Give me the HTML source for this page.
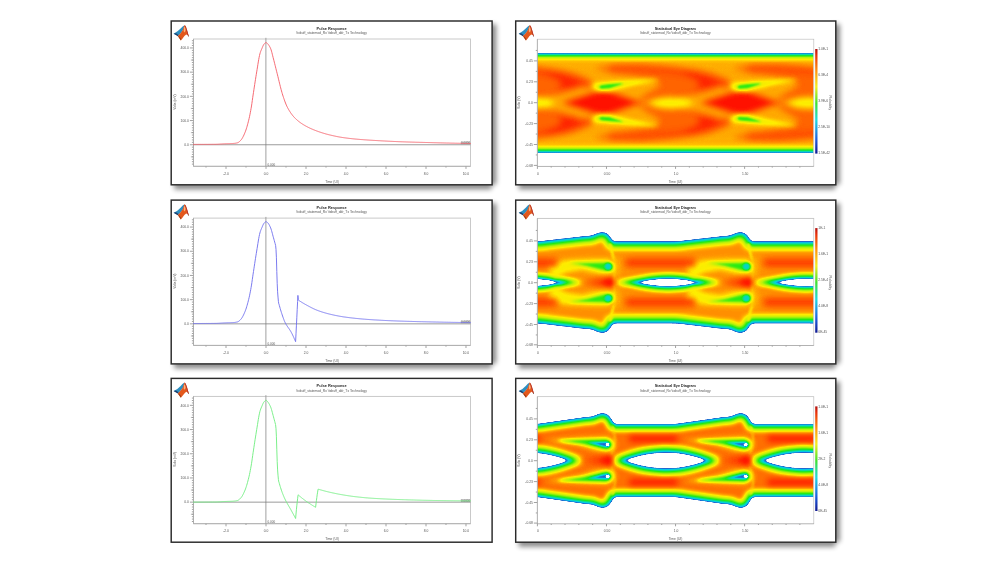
<!DOCTYPE html>
<html lang="en"><head><meta charset="utf-8"><title>Pulse Response and Statistical Eye Diagram</title>
<style>html,body{margin:0;padding:0;background:#fff;}body{width:1000px;height:562px;overflow:hidden;}svg{display:block;}text{font-family:"Liberation Sans", sans-serif;}</style></head><body>
<svg width="1000" height="562" viewBox="0 0 1000 562">
<defs>
<filter id="sh" x="-5%" y="-10%" width="110%" height="120%"><feGaussianBlur stdDeviation="2.5"/></filter>
<filter id="soft" x="-5%" y="-5%" width="110%" height="110%"><feGaussianBlur stdDeviation="0.35"/></filter>
<filter id="softt" x="-5%" y="-20%" width="110%" height="140%"><feGaussianBlur stdDeviation="0.28"/></filter>
<filter id="lg" x="-20%" y="-20%" width="140%" height="140%"><feGaussianBlur stdDeviation="0.45"/></filter>
<linearGradient id="cbar" x1="0" y1="0" x2="0" y2="1"><stop offset="0" stop-color="#b01010"/><stop offset="0.06" stop-color="#e8300c"/><stop offset="0.22" stop-color="#ff9a10"/><stop offset="0.36" stop-color="#f4ee20"/><stop offset="0.52" stop-color="#40e030"/><stop offset="0.68" stop-color="#20d8e0"/><stop offset="0.86" stop-color="#2060e0"/><stop offset="1" stop-color="#101890"/></linearGradient>
<g id="logo" filter="url(#lg)"><path d="M2.4 12.7 Q6.8 10.6 9.4 7.6 Q11.6 5.0 13.4 4.2 L12.2 8.6 L9.4 12.4 L6.8 14.9 Z" fill="#2f8fc0"/><path d="M2.4 12.7 L4.8 12.2 L7.4 14.2 L6.6 15.2 L4.4 13.8 Z" fill="#1c3c6c"/><path d="M6.6 15.0 L9.2 12.4 L11.6 9.0 L12.8 5.2 L13.5 4.1 L14.6 5.6 L15.9 9.4 L17.7 15.4 L16.4 14.0 L15.0 13.4 L13.2 15.0 L11.6 17.2 L9.7 19.4 Z" fill="#e3581f"/><path d="M13.5 4.1 L14.7 5.6 L16.0 9.4 L17.7 15.4 L16.3 13.8 L15.4 10.4 L14.2 6.6 Z" fill="#b5342c"/><path d="M12.9 6.6 L13.6 5.8 L14.4 9.0 L13.7 11.4 L12.5 10.2 Z" fill="#ffb27a"/><path d="M6.6 15.0 L8.0 15.4 L9.9 17.7 L9.7 19.4 Z" fill="#9c3a12"/><path d="M16.4 13.8 L17.7 15.4 L17.0 15.6 Z" fill="#4a2018"/></g>
<filter id="jet" filterUnits="userSpaceOnUse" x="500" y="0" width="360" height="562" color-interpolation-filters="sRGB"><feComponentTransfer><feFuncR type="table" tableValues="1.000 1.000 1.000 1.000 1.000 1.000 1.000 1.000 0.565 0.130 0.110 0.090 0.070 0.050 0.030 0.010 0.003 0.009 0.015 0.020 0.026 0.032 0.038 0.044 0.050 0.056 0.061 0.067 0.073 0.079 0.085 0.091 0.097 0.102 0.108 0.114 0.120 0.146 0.172 0.198 0.223 0.249 0.275 0.301 0.327 0.353 0.378 0.404 0.430 0.456 0.482 0.508 0.533 0.559 0.585 0.611 0.637 0.663 0.688 0.714 0.740 0.755 0.771 0.786 0.801 0.816 0.832 0.847 0.862 0.878 0.893 0.908 0.924 0.939 0.954 0.969 0.985 1.000 1.000 1.000 1.000 1.000 1.000 1.000 1.000 1.000 1.000 1.000 1.000 1.000 1.000 1.000 1.000 1.000 1.000 1.000 1.000 1.000 1.000 1.000 1.000"/><feFuncG type="table" tableValues="1.000 1.000 1.000 1.000 1.000 1.000 1.000 1.000 0.700 0.400 0.465 0.529 0.594 0.658 0.723 0.788 0.822 0.827 0.832 0.837 0.842 0.847 0.852 0.857 0.861 0.866 0.871 0.876 0.881 0.886 0.891 0.896 0.900 0.905 0.910 0.915 0.920 0.921 0.922 0.924 0.925 0.926 0.927 0.929 0.930 0.931 0.932 0.934 0.935 0.936 0.938 0.939 0.940 0.941 0.943 0.944 0.945 0.946 0.948 0.949 0.950 0.949 0.948 0.946 0.945 0.944 0.943 0.942 0.941 0.939 0.938 0.937 0.936 0.935 0.934 0.932 0.931 0.930 0.895 0.860 0.824 0.789 0.754 0.719 0.683 0.648 0.613 0.578 0.542 0.507 0.472 0.436 0.401 0.365 0.330 0.287 0.243 0.200 0.157 0.113 0.070"/><feFuncB type="table" tableValues="1.000 1.000 1.000 1.000 1.000 1.000 1.000 1.000 0.910 0.820 0.835 0.851 0.866 0.882 0.897 0.912 0.900 0.859 0.818 0.777 0.736 0.695 0.654 0.613 0.572 0.531 0.490 0.449 0.408 0.367 0.326 0.285 0.244 0.203 0.162 0.121 0.080 0.078 0.077 0.075 0.073 0.072 0.070 0.068 0.067 0.065 0.063 0.062 0.060 0.058 0.057 0.055 0.053 0.052 0.050 0.048 0.047 0.045 0.043 0.042 0.040 0.038 0.035 0.033 0.031 0.028 0.026 0.024 0.021 0.019 0.016 0.014 0.012 0.009 0.007 0.005 0.002 0.000 0.000 0.000 0.000 0.000 0.000 0.000 0.000 0.000 0.000 0.000 0.000 0.000 0.000 0.000 0.000 0.000 0.000 0.000 0.000 0.000 0.000 0.000 0.000"/></feComponentTransfer><feGaussianBlur stdDeviation="0.35"/></filter>
<filter id="b05" filterUnits="userSpaceOnUse" x="400" y="-100" width="560" height="800" color-interpolation-filters="sRGB"><feGaussianBlur stdDeviation="0.5"/></filter>
<filter id="b1" filterUnits="userSpaceOnUse" x="400" y="-100" width="560" height="800" color-interpolation-filters="sRGB"><feGaussianBlur stdDeviation="1.0"/></filter>
<filter id="b15" filterUnits="userSpaceOnUse" x="400" y="-100" width="560" height="800" color-interpolation-filters="sRGB"><feGaussianBlur stdDeviation="1.5"/></filter>
<filter id="b2" filterUnits="userSpaceOnUse" x="400" y="-100" width="560" height="800" color-interpolation-filters="sRGB"><feGaussianBlur stdDeviation="2.0"/></filter>
<filter id="b25" filterUnits="userSpaceOnUse" x="400" y="-100" width="560" height="800" color-interpolation-filters="sRGB"><feGaussianBlur stdDeviation="2.5"/></filter>
<filter id="b28" filterUnits="userSpaceOnUse" x="400" y="-100" width="560" height="800" color-interpolation-filters="sRGB"><feGaussianBlur stdDeviation="2.8"/></filter>
<filter id="b3" filterUnits="userSpaceOnUse" x="400" y="-100" width="560" height="800" color-interpolation-filters="sRGB"><feGaussianBlur stdDeviation="3.0"/></filter>
<filter id="b35" filterUnits="userSpaceOnUse" x="400" y="-100" width="560" height="800" color-interpolation-filters="sRGB"><feGaussianBlur stdDeviation="3.5"/></filter>
<filter id="b4" filterUnits="userSpaceOnUse" x="400" y="-100" width="560" height="800" color-interpolation-filters="sRGB"><feGaussianBlur stdDeviation="4.0"/></filter>
<filter id="b5" filterUnits="userSpaceOnUse" x="400" y="-100" width="560" height="800" color-interpolation-filters="sRGB"><feGaussianBlur stdDeviation="5.0"/></filter>
<filter id="b6" filterUnits="userSpaceOnUse" x="400" y="-100" width="560" height="800" color-interpolation-filters="sRGB"><feGaussianBlur stdDeviation="6.0"/></filter>
</defs>
<rect width="1000" height="562" fill="#ffffff"/>
<g fill="#000" opacity="0.46" filter="url(#sh)"><rect x="488.3" y="24.2" width="8" height="160.2"/><rect x="174.2" y="181.4" width="317.3" height="8"/></g>
<rect x="171.2" y="21" width="320.9" height="163.8" fill="#fff" stroke="#2a2a2a" stroke-width="1.45"/>
<g transform="translate(171.2 21)">
<use href="#logo"/>
<g filter="url(#softt)">
<text x="160.4" y="9.1" font-size="4.1" font-weight="bold" text-anchor="middle" fill="#222" textLength="30" lengthAdjust="spacingAndGlyphs">Pulse Response</text>
<text x="160.4" y="13.3" font-size="3.3" text-anchor="middle" fill="#555" textLength="70.5" lengthAdjust="spacingAndGlyphs">\txbuff_statemod_Rx \txbuff_ddr_Tx Technology</text>
</g>
<rect x="22.3" y="18" width="277" height="127.3" fill="#fff" stroke="#c4c4c4" stroke-width="0.9"/><path d="M54.8 145.3v2.6M94.8 145.3v2.6M134.8 145.3v2.6M174.8 145.3v2.6M214.8 145.3v2.6M254.8 145.3v2.6M294.8 145.3v2.6M34.8 145.3v1.3M74.8 145.3v1.3M114.8 145.3v1.3M154.8 145.3v1.3M194.8 145.3v1.3M234.8 145.3v1.3M274.8 145.3v1.3M22.3 123.75h-3.6M22.3 99.55h-3.6M22.3 75.35h-3.6M22.3 51.15h-3.6M22.3 26.95h-3.6M22.3 143.11h-1.6M22.3 140.69h-1.6M22.3 138.27h-1.6M22.3 135.85h-1.6M22.3 133.43h-1.6M22.3 131.01h-1.6M22.3 128.59h-1.6M22.3 126.17h-1.6M22.3 121.33h-1.6M22.3 118.91h-1.6M22.3 116.49h-1.6M22.3 114.07h-1.6M22.3 111.65h-1.6M22.3 109.23h-1.6M22.3 106.81h-1.6M22.3 104.39h-1.6M22.3 101.97h-1.6M22.3 97.13h-1.6M22.3 94.71h-1.6M22.3 92.29h-1.6M22.3 89.87h-1.6M22.3 87.45h-1.6M22.3 85.03h-1.6M22.3 82.61h-1.6M22.3 80.19h-1.6M22.3 77.77h-1.6M22.3 72.93h-1.6M22.3 70.51h-1.6M22.3 68.09h-1.6M22.3 65.67h-1.6M22.3 63.25h-1.6M22.3 60.83h-1.6M22.3 58.41h-1.6M22.3 55.99h-1.6M22.3 53.57h-1.6M22.3 48.73h-1.6M22.3 46.31h-1.6M22.3 43.89h-1.6M22.3 41.47h-1.6M22.3 39.05h-1.6M22.3 36.63h-1.6M22.3 34.21h-1.6M22.3 31.79h-1.6M22.3 29.37h-1.6M22.3 24.53h-1.6M22.3 22.11h-1.6M22.3 19.69h-1.6" stroke="#707070" stroke-width="0.65" fill="none"/><path d="M22.3 18V145.3H299.3" stroke="#a8a8a8" stroke-width="0.8" fill="none"/>
<path d="M22.3 135.85h-2.6M22.3 111.65h-2.6M22.3 87.45h-2.6M22.3 63.25h-2.6M22.3 39.05h-2.6" stroke="#8a8a8a" stroke-width="0.6" fill="none"/>
<g filter="url(#softt)" font-size="3.3" fill="#555">
<text x="17.7" y="124.95" text-anchor="end">0.0</text>
<text x="17.7" y="100.75" text-anchor="end">100.0</text>
<text x="17.7" y="76.55" text-anchor="end">200.0</text>
<text x="17.7" y="52.35" text-anchor="end">300.0</text>
<text x="17.7" y="28.15" text-anchor="end">400.0</text>
<text x="54.8" y="153.6" text-anchor="middle">-2.0</text>
<text x="94.8" y="153.6" text-anchor="middle">0.0</text>
<text x="134.8" y="153.6" text-anchor="middle">2.0</text>
<text x="174.8" y="153.6" text-anchor="middle">4.0</text>
<text x="214.8" y="153.6" text-anchor="middle">6.0</text>
<text x="254.8" y="153.6" text-anchor="middle">8.0</text>
<text x="294.8" y="153.6" text-anchor="middle">10.0</text>
<text x="160.8" y="161.5" text-anchor="middle">Time (UI)</text>
<text transform="translate(5 81.05) rotate(-90)" text-anchor="middle">Volts (mV)</text>
<text x="96.4" y="144.7" font-size="3.0">0.000</text>
<text x="299" y="123.15" font-size="3.0" text-anchor="end" fill="#333">0.0000</text>
</g>
<path d="M94.7 16.8V145.3" stroke="#a0a0a0" stroke-width="1.0" fill="none"/>
<path d="M22.3 123.75H299.3" stroke="#7a7a7a" stroke-width="0.75" fill="none"/>
<rect x="289.5" y="120.85" width="9.6" height="2.6" fill="#9a9a9a" opacity="0.55"/>
<g transform="translate(-171.2 -21)" filter="url(#soft)"><path d="M193.5 144.4 L193.9 144.4 L194.3 144.4 L194.7 144.4 L195.1 144.4 L195.5 144.4 L195.9 144.4 L196.3 144.4 L196.7 144.4 L197.1 144.4 L197.5 144.4 L197.9 144.4 L198.3 144.4 L198.7 144.39 L199.1 144.39 L199.5 144.39 L199.9 144.39 L200.3 144.39 L200.7 144.39 L201.1 144.39 L201.5 144.39 L201.9 144.39 L202.3 144.38 L202.7 144.38 L203.1 144.38 L203.5 144.38 L203.9 144.38 L204.3 144.38 L204.7 144.37 L205.1 144.37 L205.5 144.37 L205.9 144.37 L206.3 144.37 L206.7 144.36 L207.1 144.36 L207.5 144.36 L207.9 144.36 L208.3 144.35 L208.7 144.35 L209.1 144.35 L209.5 144.35 L209.9 144.34 L210.3 144.34 L210.7 144.34 L211.1 144.33 L211.5 144.33 L211.9 144.33 L212.3 144.32 L212.7 144.32 L213.1 144.32 L213.5 144.31 L213.9 144.31 L214.3 144.31 L214.7 144.3 L215.1 144.3 L215.5 144.29 L215.9 144.28 L216.3 144.27 L216.7 144.26 L217.1 144.25 L217.5 144.23 L217.9 144.21 L218.3 144.19 L218.7 144.17 L219.1 144.15 L219.5 144.12 L219.9 144.1 L220.3 144.07 L220.7 144.05 L221.1 144.02 L221.5 144 L221.9 143.97 L222.3 143.95 L222.7 143.92 L223.1 143.9 L223.5 143.87 L223.9 143.85 L224.3 143.83 L224.7 143.81 L225.1 143.8 L225.5 143.78 L225.9 143.77 L226.3 143.75 L226.7 143.74 L227.1 143.73 L227.5 143.71 L227.9 143.7 L228.3 143.69 L228.7 143.68 L229.1 143.67 L229.5 143.66 L229.9 143.64 L230.3 143.63 L230.7 143.61 L231.1 143.6 L231.5 143.58 L231.9 143.56 L232.3 143.54 L232.7 143.52 L233.1 143.49 L233.5 143.46 L233.9 143.43 L234.3 143.39 L234.7 143.34 L235.1 143.29 L235.5 143.23 L235.9 143.16 L236.3 143.08 L236.7 143 L237.1 142.9 L237.5 142.8 L237.9 142.66 L238.3 142.46 L238.7 142.2 L239.1 141.89 L239.5 141.55 L239.9 141.17 L240.3 140.76 L240.7 140.33 L241.1 139.89 L241.5 139.38 L241.9 138.81 L242.3 138.17 L242.7 137.46 L243.1 136.7 L243.5 135.89 L243.9 135.04 L244.3 134.14 L244.7 133.22 L245.1 132.26 L245.5 131.22 L245.9 130.1 L246.3 128.89 L246.7 127.61 L247.1 126.25 L247.5 124.82 L247.9 123.34 L248.3 121.8 L248.7 120.2 L249.1 118.53 L249.5 116.72 L249.9 114.79 L250.3 112.75 L250.7 110.6 L251.1 108.36 L251.5 105.99 L251.9 103.35 L252.3 100.56 L252.7 97.73 L253.1 95 L253.5 92.35 L253.9 89.71 L254.3 87.07 L254.7 84.45 L255.1 81.86 L255.5 79.3 L255.9 76.78 L256.3 74.31 L256.7 71.9 L257.1 69.43 L257.5 66.91 L257.9 64.39 L258.3 61.93 L258.7 59.59 L259.1 57.43 L259.5 55.5 L259.9 53.86 L260.3 52.52 L260.7 51.37 L261.1 50.36 L261.5 49.42 L261.9 48.5 L262.3 47.56 L262.7 46.61 L263.1 45.72 L263.5 44.94 L263.9 44.32 L264.3 43.85 L264.7 43.41 L265.1 43.03 L265.5 42.74 L265.9 42.61 L266.3 42.66 L266.7 42.88 L267.1 43.23 L267.5 43.65 L267.9 44.09 L268.3 44.54 L268.7 45.05 L269.1 45.64 L269.5 46.3 L269.9 47.04 L270.3 47.84 L270.7 48.73 L271.1 49.83 L271.5 51.14 L271.9 52.61 L272.3 54.19 L272.7 55.82 L273.1 57.44 L273.5 59 L273.9 60.53 L274.3 62.09 L274.7 63.68 L275.1 65.29 L275.5 66.9 L275.9 68.51 L276.3 70.12 L276.7 71.71 L277.1 73.29 L277.5 74.89 L277.9 76.52 L278.3 78.17 L278.7 79.83 L279.1 81.48 L279.5 83.13 L279.9 84.76 L280.3 86.36 L280.7 87.94 L281.1 89.46 L281.5 90.94 L281.9 92.37 L282.3 93.72 L282.7 95 L283.1 96.23 L283.5 97.44 L283.9 98.62 L284.3 99.78 L284.7 100.9 L285.1 101.98 L285.5 103.03 L285.9 104.03 L286.3 104.98 L286.7 105.88 L287.1 106.72 L287.5 107.5 L287.9 108.24 L288.3 108.96 L288.7 109.65 L289.1 110.33 L289.5 110.98 L289.9 111.62 L290.3 112.24 L290.7 112.83 L291.1 113.41 L291.5 113.97 L291.9 114.51 L292.3 115.03 L292.7 115.54 L293.1 116.02 L293.5 116.49 L293.9 116.94 L294.3 117.38 L294.7 117.8 L295.1 118.2 L295.5 118.59 L295.9 118.97 L296.3 119.34 L296.7 119.7 L297.1 120.06 L297.5 120.4 L297.9 120.74 L298.3 121.07 L298.7 121.39 L299.1 121.7 L299.5 122.01 L299.9 122.31 L300.3 122.6 L300.7 122.89 L301.1 123.16 L301.5 123.44 L301.9 123.7 L302.3 123.97 L302.7 124.22 L303.1 124.47 L303.5 124.72 L303.9 124.96 L304.3 125.2 L304.7 125.43 L305.1 125.66 L305.5 125.88 L305.9 126.1 L306.3 126.32 L306.7 126.54 L307.1 126.75 L307.5 126.95 L307.9 127.16 L308.3 127.36 L308.7 127.56 L309.1 127.75 L309.5 127.94 L309.9 128.13 L310.3 128.32 L310.7 128.5 L311.1 128.68 L311.5 128.86 L311.9 129.04 L312.3 129.21 L312.7 129.38 L313.1 129.55 L313.5 129.71 L313.9 129.88 L314.3 130.04 L314.7 130.2 L315.1 130.35 L315.5 130.51 L315.9 130.66 L316.3 130.81 L316.7 130.96 L317.1 131.1 L317.5 131.25 L317.9 131.39 L318.3 131.54 L318.7 131.68 L319.1 131.81 L319.5 131.95 L319.9 132.09 L320.3 132.22 L320.7 132.35 L321.1 132.48 L321.5 132.61 L321.9 132.74 L322.3 132.87 L322.7 132.99 L323.1 133.12 L323.5 133.24 L323.9 133.36 L324.3 133.48 L324.7 133.59 L325.1 133.71 L325.5 133.82 L325.9 133.94 L326.3 134.05 L326.7 134.16 L327.1 134.26 L327.5 134.37 L327.9 134.48 L328.3 134.58 L328.7 134.68 L329.1 134.78 L329.5 134.88 L329.9 134.98 L330.3 135.07 L330.7 135.17 L331.1 135.26 L331.5 135.35 L331.9 135.45 L332.3 135.54 L332.7 135.63 L333.1 135.72 L333.5 135.81 L333.9 135.9 L334.3 135.98 L334.7 136.07 L335.1 136.15 L335.5 136.24 L335.9 136.32 L336.3 136.4 L336.7 136.48 L337.1 136.56 L337.5 136.64 L337.9 136.71 L338.3 136.79 L338.7 136.86 L339.1 136.94 L339.5 137.01 L339.9 137.08 L340.3 137.15 L340.7 137.21 L341.1 137.28 L341.5 137.35 L341.9 137.41 L342.3 137.47 L342.7 137.53 L343.1 137.59 L343.5 137.65 L343.9 137.7 L344.3 137.76 L344.7 137.82 L345.1 137.87 L345.5 137.93 L345.9 137.98 L346.3 138.03 L346.7 138.08 L347.1 138.13 L347.5 138.18 L347.9 138.23 L348.3 138.28 L348.7 138.33 L349.1 138.38 L349.5 138.42 L349.9 138.47 L350.3 138.51 L350.7 138.56 L351.1 138.6 L351.5 138.64 L351.9 138.69 L352.3 138.73 L352.7 138.77 L353.1 138.81 L353.5 138.85 L353.9 138.89 L354.3 138.93 L354.7 138.97 L355.1 139.01 L355.5 139.05 L355.9 139.09 L356.3 139.12 L356.7 139.16 L357.1 139.19 L357.5 139.23 L357.9 139.27 L358.3 139.3 L358.7 139.33 L359.1 139.37 L359.5 139.4 L359.9 139.43 L360.3 139.47 L360.7 139.5 L361.1 139.53 L361.5 139.56 L361.9 139.59 L362.3 139.62 L362.7 139.65 L363.1 139.69 L363.5 139.72 L363.9 139.74 L364.3 139.77 L364.7 139.8 L365.1 139.83 L365.5 139.86 L365.9 139.89 L366.3 139.92 L366.7 139.94 L367.1 139.97 L367.5 140 L367.9 140.03 L368.3 140.05 L368.7 140.08 L369.1 140.11 L369.5 140.13 L369.9 140.16 L370.3 140.18 L370.7 140.21 L371.1 140.23 L371.5 140.26 L371.9 140.28 L372.3 140.31 L372.7 140.33 L373.1 140.36 L373.5 140.38 L373.9 140.4 L374.3 140.43 L374.7 140.45 L375.1 140.47 L375.5 140.5 L375.9 140.52 L376.3 140.54 L376.7 140.57 L377.1 140.59 L377.5 140.61 L377.9 140.63 L378.3 140.66 L378.7 140.68 L379.1 140.7 L379.5 140.72 L379.9 140.74 L380.3 140.77 L380.7 140.79 L381.1 140.81 L381.5 140.83 L381.9 140.86 L382.3 140.88 L382.7 140.9 L383.1 140.92 L383.5 140.94 L383.9 140.97 L384.3 140.99 L384.7 141.01 L385.1 141.03 L385.5 141.05 L385.9 141.07 L386.3 141.09 L386.7 141.12 L387.1 141.14 L387.5 141.16 L387.9 141.18 L388.3 141.2 L388.7 141.22 L389.1 141.24 L389.5 141.26 L389.9 141.28 L390.3 141.3 L390.7 141.32 L391.1 141.34 L391.5 141.35 L391.9 141.37 L392.3 141.39 L392.7 141.41 L393.1 141.43 L393.5 141.44 L393.9 141.46 L394.3 141.48 L394.7 141.5 L395.1 141.52 L395.5 141.53 L395.9 141.55 L396.3 141.57 L396.7 141.58 L397.1 141.6 L397.5 141.62 L397.9 141.63 L398.3 141.65 L398.7 141.67 L399.1 141.68 L399.5 141.7 L399.9 141.71 L400.3 141.73 L400.7 141.74 L401.1 141.76 L401.5 141.78 L401.9 141.79 L402.3 141.81 L402.7 141.82 L403.1 141.83 L403.5 141.85 L403.9 141.86 L404.3 141.88 L404.7 141.89 L405.1 141.9 L405.5 141.92 L405.9 141.93 L406.3 141.94 L406.7 141.96 L407.1 141.97 L407.5 141.98 L407.9 141.99 L408.3 142.01 L408.7 142.02 L409.1 142.03 L409.5 142.04 L409.9 142.06 L410.3 142.07 L410.7 142.08 L411.1 142.09 L411.5 142.1 L411.9 142.12 L412.3 142.13 L412.7 142.14 L413.1 142.15 L413.5 142.16 L413.9 142.17 L414.3 142.18 L414.7 142.2 L415.1 142.21 L415.5 142.22 L415.9 142.23 L416.3 142.24 L416.7 142.25 L417.1 142.26 L417.5 142.27 L417.9 142.28 L418.3 142.29 L418.7 142.3 L419.1 142.32 L419.5 142.33 L419.9 142.34 L420.3 142.35 L420.7 142.36 L421.1 142.37 L421.5 142.38 L421.9 142.39 L422.3 142.4 L422.7 142.41 L423.1 142.42 L423.5 142.43 L423.9 142.44 L424.3 142.45 L424.7 142.46 L425.1 142.47 L425.5 142.48 L425.9 142.49 L426.3 142.5 L426.7 142.51 L427.1 142.52 L427.5 142.53 L427.9 142.54 L428.3 142.56 L428.7 142.57 L429.1 142.58 L429.5 142.59 L429.9 142.6 L430.3 142.61 L430.7 142.62 L431.1 142.63 L431.5 142.64 L431.9 142.65 L432.3 142.66 L432.7 142.67 L433.1 142.68 L433.5 142.69 L433.9 142.7 L434.3 142.71 L434.7 142.72 L435.1 142.73 L435.5 142.74 L435.9 142.76 L436.3 142.77 L436.7 142.78 L437.1 142.79 L437.5 142.8 L437.9 142.81 L438.3 142.82 L438.7 142.83 L439.1 142.84 L439.5 142.85 L439.9 142.86 L440.3 142.87 L440.7 142.88 L441.1 142.89 L441.5 142.9 L441.9 142.91 L442.3 142.92 L442.7 142.93 L443.1 142.94 L443.5 142.95 L443.9 142.96 L444.3 142.97 L444.7 142.98 L445.1 142.99 L445.5 143 L445.9 143.01 L446.3 143.02 L446.7 143.03 L447.1 143.03 L447.5 143.04 L447.9 143.05 L448.3 143.06 L448.7 143.07 L449.1 143.08 L449.5 143.09 L449.9 143.1 L450.3 143.11 L450.7 143.12 L451.1 143.12 L451.5 143.13 L451.9 143.14 L452.3 143.15 L452.7 143.16 L453.1 143.17 L453.5 143.18 L453.9 143.18 L454.3 143.19 L454.7 143.2 L455.1 143.21 L455.5 143.22 L455.9 143.23 L456.3 143.23 L456.7 143.24 L457.1 143.25 L457.5 143.26 L457.9 143.27 L458.3 143.27 L458.7 143.28 L459.1 143.29 L459.5 143.3 L459.9 143.31 L460.3 143.31 L460.7 143.32 L461.1 143.33 L461.5 143.34 L461.9 143.35 L462.3 143.35 L462.7 143.36 L463.1 143.37 L463.5 143.38 L463.9 143.38 L464.3 143.39 L464.7 143.4 L465.1 143.41 L465.5 143.41 L465.9 143.42 L466.3 143.43 L466.7 143.43 L467.1 143.44 L467.5 143.45 L467.9 143.46 L468.3 143.46 L468.7 143.47 L469.1 143.48 L469.5 143.48 L469.9 143.49 L470.3 143.5 L470.5 143.5" fill="none" stroke="#f4626c" stroke-width="0.95" stroke-linejoin="round" stroke-linecap="round"/></g>
</g>
<g fill="#000" opacity="0.46" filter="url(#sh)"><rect x="488.3" y="203.3" width="8" height="160.2"/><rect x="174.2" y="360.5" width="317.3" height="8"/></g>
<rect x="171.2" y="200.1" width="320.9" height="163.8" fill="#fff" stroke="#2a2a2a" stroke-width="1.45"/>
<g transform="translate(171.2 200.1)">
<use href="#logo"/>
<g filter="url(#softt)">
<text x="160.4" y="9.1" font-size="4.1" font-weight="bold" text-anchor="middle" fill="#222" textLength="30" lengthAdjust="spacingAndGlyphs">Pulse Response</text>
<text x="160.4" y="13.3" font-size="3.3" text-anchor="middle" fill="#555" textLength="70.5" lengthAdjust="spacingAndGlyphs">\txbuff_statemod_Rx \txbuff_ddr_Tx Technology</text>
</g>
<rect x="22.3" y="18" width="277" height="127.3" fill="#fff" stroke="#c4c4c4" stroke-width="0.9"/><path d="M54.8 145.3v2.6M94.8 145.3v2.6M134.8 145.3v2.6M174.8 145.3v2.6M214.8 145.3v2.6M254.8 145.3v2.6M294.8 145.3v2.6M34.8 145.3v1.3M74.8 145.3v1.3M114.8 145.3v1.3M154.8 145.3v1.3M194.8 145.3v1.3M234.8 145.3v1.3M274.8 145.3v1.3M22.3 123.75h-3.6M22.3 99.55h-3.6M22.3 75.35h-3.6M22.3 51.15h-3.6M22.3 26.95h-3.6M22.3 143.11h-1.6M22.3 140.69h-1.6M22.3 138.27h-1.6M22.3 135.85h-1.6M22.3 133.43h-1.6M22.3 131.01h-1.6M22.3 128.59h-1.6M22.3 126.17h-1.6M22.3 121.33h-1.6M22.3 118.91h-1.6M22.3 116.49h-1.6M22.3 114.07h-1.6M22.3 111.65h-1.6M22.3 109.23h-1.6M22.3 106.81h-1.6M22.3 104.39h-1.6M22.3 101.97h-1.6M22.3 97.13h-1.6M22.3 94.71h-1.6M22.3 92.29h-1.6M22.3 89.87h-1.6M22.3 87.45h-1.6M22.3 85.03h-1.6M22.3 82.61h-1.6M22.3 80.19h-1.6M22.3 77.77h-1.6M22.3 72.93h-1.6M22.3 70.51h-1.6M22.3 68.09h-1.6M22.3 65.67h-1.6M22.3 63.25h-1.6M22.3 60.83h-1.6M22.3 58.41h-1.6M22.3 55.99h-1.6M22.3 53.57h-1.6M22.3 48.73h-1.6M22.3 46.31h-1.6M22.3 43.89h-1.6M22.3 41.47h-1.6M22.3 39.05h-1.6M22.3 36.63h-1.6M22.3 34.21h-1.6M22.3 31.79h-1.6M22.3 29.37h-1.6M22.3 24.53h-1.6M22.3 22.11h-1.6M22.3 19.69h-1.6" stroke="#707070" stroke-width="0.65" fill="none"/><path d="M22.3 18V145.3H299.3" stroke="#a8a8a8" stroke-width="0.8" fill="none"/>
<path d="M22.3 135.85h-2.6M22.3 111.65h-2.6M22.3 87.45h-2.6M22.3 63.25h-2.6M22.3 39.05h-2.6" stroke="#8a8a8a" stroke-width="0.6" fill="none"/>
<g filter="url(#softt)" font-size="3.3" fill="#555">
<text x="17.7" y="124.95" text-anchor="end">0.0</text>
<text x="17.7" y="100.75" text-anchor="end">100.0</text>
<text x="17.7" y="76.55" text-anchor="end">200.0</text>
<text x="17.7" y="52.35" text-anchor="end">300.0</text>
<text x="17.7" y="28.15" text-anchor="end">400.0</text>
<text x="54.8" y="153.6" text-anchor="middle">-2.0</text>
<text x="94.8" y="153.6" text-anchor="middle">0.0</text>
<text x="134.8" y="153.6" text-anchor="middle">2.0</text>
<text x="174.8" y="153.6" text-anchor="middle">4.0</text>
<text x="214.8" y="153.6" text-anchor="middle">6.0</text>
<text x="254.8" y="153.6" text-anchor="middle">8.0</text>
<text x="294.8" y="153.6" text-anchor="middle">10.0</text>
<text x="160.8" y="161.5" text-anchor="middle">Time (UI)</text>
<text transform="translate(5 81.05) rotate(-90)" text-anchor="middle">Volts (mV)</text>
<text x="96.4" y="144.7" font-size="3.0">0.000</text>
<text x="299" y="123.15" font-size="3.0" text-anchor="end" fill="#333">0.0000</text>
</g>
<path d="M94.7 16.8V145.3" stroke="#a0a0a0" stroke-width="1.0" fill="none"/>
<path d="M22.3 123.75H299.3" stroke="#7a7a7a" stroke-width="0.75" fill="none"/>
<rect x="289.5" y="120.85" width="9.6" height="2.6" fill="#9a9a9a" opacity="0.55"/>
<g transform="translate(-171.2 -21)" filter="url(#soft)"><path d="M193.5 144.4 L193.9 144.4 L194.3 144.4 L194.7 144.4 L195.1 144.4 L195.5 144.4 L195.9 144.4 L196.3 144.4 L196.7 144.4 L197.1 144.4 L197.5 144.4 L197.9 144.4 L198.3 144.4 L198.7 144.39 L199.1 144.39 L199.5 144.39 L199.9 144.39 L200.3 144.39 L200.7 144.39 L201.1 144.39 L201.5 144.39 L201.9 144.39 L202.3 144.38 L202.7 144.38 L203.1 144.38 L203.5 144.38 L203.9 144.38 L204.3 144.38 L204.7 144.37 L205.1 144.37 L205.5 144.37 L205.9 144.37 L206.3 144.37 L206.7 144.36 L207.1 144.36 L207.5 144.36 L207.9 144.36 L208.3 144.35 L208.7 144.35 L209.1 144.35 L209.5 144.35 L209.9 144.34 L210.3 144.34 L210.7 144.34 L211.1 144.33 L211.5 144.33 L211.9 144.33 L212.3 144.32 L212.7 144.32 L213.1 144.32 L213.5 144.31 L213.9 144.31 L214.3 144.31 L214.7 144.3 L215.1 144.3 L215.5 144.29 L215.9 144.28 L216.3 144.27 L216.7 144.26 L217.1 144.25 L217.5 144.23 L217.9 144.21 L218.3 144.19 L218.7 144.17 L219.1 144.15 L219.5 144.12 L219.9 144.1 L220.3 144.07 L220.7 144.05 L221.1 144.02 L221.5 144 L221.9 143.97 L222.3 143.95 L222.7 143.92 L223.1 143.9 L223.5 143.87 L223.9 143.85 L224.3 143.83 L224.7 143.81 L225.1 143.8 L225.5 143.78 L225.9 143.77 L226.3 143.75 L226.7 143.74 L227.1 143.73 L227.5 143.71 L227.9 143.7 L228.3 143.69 L228.7 143.68 L229.1 143.67 L229.5 143.66 L229.9 143.64 L230.3 143.63 L230.7 143.61 L231.1 143.6 L231.5 143.58 L231.9 143.56 L232.3 143.54 L232.7 143.52 L233.1 143.49 L233.5 143.46 L233.9 143.43 L234.3 143.39 L234.7 143.34 L235.1 143.29 L235.5 143.23 L235.9 143.16 L236.3 143.08 L236.7 143 L237.1 142.9 L237.5 142.8 L237.9 142.66 L238.3 142.46 L238.7 142.2 L239.1 141.89 L239.5 141.55 L239.9 141.17 L240.3 140.76 L240.7 140.33 L241.1 139.89 L241.5 139.38 L241.9 138.81 L242.3 138.17 L242.7 137.46 L243.1 136.7 L243.5 135.89 L243.9 135.04 L244.3 134.14 L244.7 133.22 L245.1 132.26 L245.5 131.22 L245.9 130.1 L246.3 128.89 L246.7 127.61 L247.1 126.25 L247.5 124.82 L247.9 123.34 L248.3 121.8 L248.7 120.2 L249.1 118.53 L249.5 116.72 L249.9 114.79 L250.3 112.75 L250.7 110.6 L251.1 108.36 L251.5 105.99 L251.9 103.35 L252.3 100.56 L252.7 97.73 L253.1 95 L253.5 92.35 L253.9 89.71 L254.3 87.07 L254.7 84.45 L255.1 81.86 L255.5 79.3 L255.9 76.78 L256.3 74.31 L256.7 71.9 L257.1 69.43 L257.5 66.91 L257.9 64.39 L258.3 61.93 L258.7 59.59 L259.1 57.43 L259.5 55.5 L259.9 53.86 L260.3 52.52 L260.7 51.37 L261.1 50.36 L261.5 49.42 L261.9 48.5 L262.3 47.56 L262.7 46.61 L263.1 45.72 L263.5 44.94 L263.9 44.32 L264.3 43.85 L264.7 43.41 L265.1 43.03 L265.5 42.74 L265.9 42.61 L266.3 42.65 L266.7 42.84 L267.1 43.14 L267.5 43.5 L267.9 43.9 L268.3 44.33 L268.7 44.88 L269.1 45.54 L269.5 46.29 L269.9 47.12 L270.3 48 L270.7 48.94 L271.1 50.04 L271.5 51.32 L271.9 52.72 L272.3 54.21 L272.7 55.73 L273.1 57.24 L273.5 58.7 L273.9 60.12 L274.3 61.56 L274.7 63 L275.1 64.46 L275.5 65.93 L275.6 66.3 L275.6 66.3 L276 70.3 L276.4 78.13 L276.8 92.53 L277.2 104.15 L277.6 112.7 L278 117.95 L278.4 122.23 L278.8 124.75 L279 125.1 L279 125.1 L279.4 126.57 L279.8 128.01 L280.2 129.4 L280.6 130.76 L281 132.08 L281.4 133.36 L281.8 134.6 L282.2 135.79 L282.6 136.98 L283 138.14 L283.4 139.27 L283.8 140.35 L284.2 141.38 L284.6 142.33 L285 143.2 L285.4 144 L285.8 144.74 L286.2 145.43 L286.6 146.09 L287 146.71 L287.4 147.31 L287.8 147.9 L288.2 148.47 L288.6 149.03 L289 149.6 L289.4 150.18 L289.8 150.78 L290.2 151.4 L290.6 152.05 L291 152.75 L291.4 153.48 L291.8 154.25 L292.2 155.04 L292.6 155.85 L293 156.69 L293.4 157.55 L293.8 158.43 L294.2 159.33 L294.6 160.25 L295 161.18 L295.4 162.12 L295.6 162.6 L295.6 162.6 L296 154.69 L296.4 146.73 L296.8 138.7 L297.2 130.61 L297.6 122.46 L297.9 116.3 L297.9 116.3 L298.3 120.27 L298.7 121.28 L298.75 121.3 L298.75 121.3 L299.15 121.56 L299.55 121.81 L299.95 122.07 L300.35 122.32 L300.75 122.57 L301.15 122.82 L301.55 123.07 L301.95 123.32 L302.35 123.56 L302.75 123.8 L303.15 124.04 L303.55 124.28 L303.95 124.51 L304.35 124.74 L304.75 124.96 L305.15 125.18 L305.55 125.4 L305.95 125.63 L306.35 125.85 L306.75 126.07 L307.15 126.29 L307.55 126.51 L307.95 126.72 L308.35 126.94 L308.75 127.16 L309.15 127.37 L309.55 127.59 L309.95 127.8 L310.35 128.01 L310.75 128.22 L311.15 128.42 L311.55 128.63 L311.95 128.83 L312.35 129.03 L312.75 129.22 L313.15 129.42 L313.55 129.61 L313.95 129.8 L314.35 129.98 L314.75 130.16 L315.15 130.34 L315.55 130.51 L315.95 130.68 L316.35 130.85 L316.75 131.01 L317.15 131.17 L317.55 131.32 L317.95 131.47 L318.35 131.62 L318.75 131.76 L319.15 131.9 L319.55 132.05 L319.95 132.18 L320.35 132.32 L320.75 132.46 L321.15 132.59 L321.55 132.72 L321.95 132.85 L322.35 132.98 L322.75 133.11 L323.15 133.23 L323.55 133.35 L323.95 133.47 L324.35 133.59 L324.75 133.71 L325.15 133.82 L325.55 133.94 L325.95 134.05 L326.35 134.16 L326.75 134.27 L327.15 134.38 L327.55 134.48 L327.95 134.59 L328.35 134.69 L328.75 134.79 L329.15 134.89 L329.55 134.99 L329.95 135.09 L330.35 135.18 L330.75 135.28 L331.15 135.37 L331.55 135.47 L331.95 135.56 L332.35 135.65 L332.75 135.74 L333.15 135.83 L333.55 135.92 L333.95 136 L334.35 136.09 L334.75 136.17 L335.15 136.26 L335.55 136.34 L335.95 136.42 L336.35 136.5 L336.75 136.58 L337.15 136.66 L337.55 136.74 L337.95 136.81 L338.35 136.89 L338.75 136.96 L339.15 137.04 L339.55 137.11 L339.95 137.18 L340.35 137.25 L340.75 137.32 L341.15 137.38 L341.55 137.45 L341.95 137.51 L342.35 137.58 L342.75 137.64 L343.15 137.7 L343.55 137.76 L343.95 137.82 L344.35 137.88 L344.75 137.94 L345.15 138 L345.55 138.05 L345.95 138.11 L346.35 138.16 L346.75 138.22 L347.15 138.27 L347.55 138.33 L347.95 138.38 L348.35 138.43 L348.75 138.48 L349.15 138.53 L349.55 138.58 L349.95 138.63 L350.35 138.68 L350.75 138.73 L351.15 138.77 L351.55 138.82 L351.95 138.87 L352.35 138.91 L352.75 138.96 L353.15 139 L353.55 139.05 L353.95 139.09 L354.35 139.13 L354.75 139.17 L355.15 139.22 L355.55 139.26 L355.95 139.3 L356.35 139.34 L356.75 139.38 L357.15 139.42 L357.55 139.46 L357.95 139.5 L358.35 139.54 L358.75 139.57 L359.15 139.61 L359.55 139.65 L359.95 139.69 L360.35 139.72 L360.75 139.76 L361.15 139.8 L361.55 139.83 L361.95 139.87 L362.35 139.9 L362.75 139.94 L363.15 139.97 L363.55 140.01 L363.95 140.04 L364.35 140.07 L364.75 140.11 L365.15 140.14 L365.55 140.17 L365.95 140.2 L366.35 140.23 L366.75 140.27 L367.15 140.3 L367.55 140.33 L367.95 140.36 L368.35 140.38 L368.75 140.41 L369.15 140.44 L369.55 140.47 L369.95 140.5 L370.35 140.52 L370.75 140.55 L371.15 140.58 L371.55 140.6 L371.95 140.63 L372.35 140.66 L372.75 140.68 L373.15 140.71 L373.55 140.73 L373.95 140.76 L374.35 140.78 L374.75 140.81 L375.15 140.83 L375.55 140.86 L375.95 140.88 L376.35 140.9 L376.75 140.93 L377.15 140.95 L377.55 140.98 L377.95 141 L378.35 141.02 L378.75 141.04 L379.15 141.07 L379.55 141.09 L379.95 141.11 L380.35 141.13 L380.75 141.15 L381.15 141.18 L381.55 141.2 L381.95 141.22 L382.35 141.24 L382.75 141.26 L383.15 141.28 L383.55 141.3 L383.95 141.32 L384.35 141.34 L384.75 141.36 L385.15 141.38 L385.55 141.4 L385.95 141.42 L386.35 141.44 L386.75 141.45 L387.15 141.47 L387.55 141.49 L387.95 141.51 L388.35 141.53 L388.75 141.55 L389.15 141.56 L389.55 141.58 L389.95 141.6 L390.35 141.61 L390.75 141.63 L391.15 141.65 L391.55 141.67 L391.95 141.68 L392.35 141.7 L392.75 141.71 L393.15 141.73 L393.55 141.75 L393.95 141.76 L394.35 141.78 L394.75 141.79 L395.15 141.81 L395.55 141.82 L395.95 141.84 L396.35 141.85 L396.75 141.87 L397.15 141.88 L397.55 141.9 L397.95 141.91 L398.35 141.93 L398.75 141.94 L399.15 141.95 L399.55 141.97 L399.95 141.98 L400.35 142 L400.75 142.01 L401.15 142.02 L401.55 142.04 L401.95 142.05 L402.35 142.06 L402.75 142.08 L403.15 142.09 L403.55 142.1 L403.95 142.12 L404.35 142.13 L404.75 142.14 L405.15 142.15 L405.55 142.17 L405.95 142.18 L406.35 142.19 L406.75 142.2 L407.15 142.22 L407.55 142.23 L407.95 142.24 L408.35 142.25 L408.75 142.26 L409.15 142.28 L409.55 142.29 L409.95 142.3 L410.35 142.31 L410.75 142.32 L411.15 142.33 L411.55 142.34 L411.95 142.36 L412.35 142.37 L412.75 142.38 L413.15 142.39 L413.55 142.4 L413.95 142.41 L414.35 142.42 L414.75 142.43 L415.15 142.44 L415.55 142.45 L415.95 142.46 L416.35 142.47 L416.75 142.49 L417.15 142.5 L417.55 142.51 L417.95 142.52 L418.35 142.53 L418.75 142.54 L419.15 142.55 L419.55 142.56 L419.95 142.57 L420.35 142.58 L420.75 142.59 L421.15 142.6 L421.55 142.61 L421.95 142.61 L422.35 142.62 L422.75 142.63 L423.15 142.64 L423.55 142.65 L423.95 142.66 L424.35 142.67 L424.75 142.68 L425.15 142.69 L425.55 142.7 L425.95 142.71 L426.35 142.72 L426.75 142.73 L427.15 142.74 L427.55 142.75 L427.95 142.75 L428.35 142.76 L428.75 142.77 L429.15 142.78 L429.55 142.79 L429.95 142.8 L430.35 142.81 L430.75 142.82 L431.15 142.83 L431.55 142.83 L431.95 142.84 L432.35 142.85 L432.75 142.86 L433.15 142.87 L433.55 142.88 L433.95 142.89 L434.35 142.9 L434.75 142.9 L435.15 142.91 L435.55 142.92 L435.95 142.93 L436.35 142.94 L436.75 142.95 L437.15 142.95 L437.55 142.96 L437.95 142.97 L438.35 142.98 L438.75 142.99 L439.15 143 L439.55 143 L439.95 143.01 L440.35 143.02 L440.75 143.03 L441.15 143.04 L441.55 143.04 L441.95 143.05 L442.35 143.06 L442.75 143.07 L443.15 143.08 L443.55 143.08 L443.95 143.09 L444.35 143.1 L444.75 143.11 L445.15 143.11 L445.55 143.12 L445.95 143.13 L446.35 143.14 L446.75 143.14 L447.15 143.15 L447.55 143.16 L447.95 143.16 L448.35 143.17 L448.75 143.18 L449.15 143.19 L449.55 143.19 L449.95 143.2 L450.35 143.21 L450.75 143.21 L451.15 143.22 L451.55 143.23 L451.95 143.23 L452.35 143.24 L452.75 143.25 L453.15 143.25 L453.55 143.26 L453.95 143.27 L454.35 143.27 L454.75 143.28 L455.15 143.28 L455.55 143.29 L455.95 143.3 L456.35 143.3 L456.75 143.31 L457.15 143.32 L457.55 143.32 L457.95 143.33 L458.35 143.33 L458.75 143.34 L459.15 143.35 L459.55 143.35 L459.95 143.36 L460.35 143.36 L460.75 143.37 L461.15 143.38 L461.55 143.38 L461.95 143.39 L462.35 143.39 L462.75 143.4 L463.15 143.4 L463.55 143.41 L463.95 143.42 L464.35 143.42 L464.75 143.43 L465.15 143.43 L465.55 143.44 L465.95 143.44 L466.35 143.45 L466.75 143.45 L467.15 143.46 L467.55 143.46 L467.95 143.47 L468.35 143.47 L468.75 143.48 L469.15 143.48 L469.55 143.49 L469.95 143.49 L470.35 143.5 L470.5 143.5" fill="none" stroke="#7474ee" stroke-width="0.95" stroke-linejoin="round" stroke-linecap="round"/></g>
</g>
<rect x="171.2" y="378.4" width="320.9" height="163.8" fill="#fff" stroke="#2a2a2a" stroke-width="1.45"/>
<g transform="translate(171.2 378.4)">
<use href="#logo"/>
<g filter="url(#softt)">
<text x="160.4" y="9.1" font-size="4.1" font-weight="bold" text-anchor="middle" fill="#222" textLength="30" lengthAdjust="spacingAndGlyphs">Pulse Response</text>
<text x="160.4" y="13.3" font-size="3.3" text-anchor="middle" fill="#555" textLength="70.5" lengthAdjust="spacingAndGlyphs">\txbuff_statemod_Rx \txbuff_ddr_Tx Technology</text>
</g>
<rect x="22.3" y="18" width="277" height="127.3" fill="#fff" stroke="#c4c4c4" stroke-width="0.9"/><path d="M54.8 145.3v2.6M94.8 145.3v2.6M134.8 145.3v2.6M174.8 145.3v2.6M214.8 145.3v2.6M254.8 145.3v2.6M294.8 145.3v2.6M34.8 145.3v1.3M74.8 145.3v1.3M114.8 145.3v1.3M154.8 145.3v1.3M194.8 145.3v1.3M234.8 145.3v1.3M274.8 145.3v1.3M22.3 123.75h-3.6M22.3 99.55h-3.6M22.3 75.35h-3.6M22.3 51.15h-3.6M22.3 26.95h-3.6M22.3 143.11h-1.6M22.3 140.69h-1.6M22.3 138.27h-1.6M22.3 135.85h-1.6M22.3 133.43h-1.6M22.3 131.01h-1.6M22.3 128.59h-1.6M22.3 126.17h-1.6M22.3 121.33h-1.6M22.3 118.91h-1.6M22.3 116.49h-1.6M22.3 114.07h-1.6M22.3 111.65h-1.6M22.3 109.23h-1.6M22.3 106.81h-1.6M22.3 104.39h-1.6M22.3 101.97h-1.6M22.3 97.13h-1.6M22.3 94.71h-1.6M22.3 92.29h-1.6M22.3 89.87h-1.6M22.3 87.45h-1.6M22.3 85.03h-1.6M22.3 82.61h-1.6M22.3 80.19h-1.6M22.3 77.77h-1.6M22.3 72.93h-1.6M22.3 70.51h-1.6M22.3 68.09h-1.6M22.3 65.67h-1.6M22.3 63.25h-1.6M22.3 60.83h-1.6M22.3 58.41h-1.6M22.3 55.99h-1.6M22.3 53.57h-1.6M22.3 48.73h-1.6M22.3 46.31h-1.6M22.3 43.89h-1.6M22.3 41.47h-1.6M22.3 39.05h-1.6M22.3 36.63h-1.6M22.3 34.21h-1.6M22.3 31.79h-1.6M22.3 29.37h-1.6M22.3 24.53h-1.6M22.3 22.11h-1.6M22.3 19.69h-1.6" stroke="#707070" stroke-width="0.65" fill="none"/><path d="M22.3 18V145.3H299.3" stroke="#a8a8a8" stroke-width="0.8" fill="none"/>
<path d="M22.3 135.85h-2.6M22.3 111.65h-2.6M22.3 87.45h-2.6M22.3 63.25h-2.6M22.3 39.05h-2.6" stroke="#8a8a8a" stroke-width="0.6" fill="none"/>
<g filter="url(#softt)" font-size="3.3" fill="#555">
<text x="17.7" y="124.95" text-anchor="end">0.0</text>
<text x="17.7" y="100.75" text-anchor="end">100.0</text>
<text x="17.7" y="76.55" text-anchor="end">200.0</text>
<text x="17.7" y="52.35" text-anchor="end">300.0</text>
<text x="17.7" y="28.15" text-anchor="end">400.0</text>
<text x="54.8" y="153.6" text-anchor="middle">-2.0</text>
<text x="94.8" y="153.6" text-anchor="middle">0.0</text>
<text x="134.8" y="153.6" text-anchor="middle">2.0</text>
<text x="174.8" y="153.6" text-anchor="middle">4.0</text>
<text x="214.8" y="153.6" text-anchor="middle">6.0</text>
<text x="254.8" y="153.6" text-anchor="middle">8.0</text>
<text x="294.8" y="153.6" text-anchor="middle">10.0</text>
<text x="160.8" y="161.5" text-anchor="middle">Time (UI)</text>
<text transform="translate(5 81.05) rotate(-90)" text-anchor="middle">Volts (mV)</text>
<text x="96.4" y="144.7" font-size="3.0">0.000</text>
<text x="299" y="123.15" font-size="3.0" text-anchor="end" fill="#333">0.0000</text>
</g>
<path d="M94.7 16.8V145.3" stroke="#a0a0a0" stroke-width="1.0" fill="none"/>
<path d="M22.3 123.75H299.3" stroke="#7a7a7a" stroke-width="0.75" fill="none"/>
<rect x="289.5" y="120.85" width="9.6" height="2.6" fill="#9a9a9a" opacity="0.55"/>
<g transform="translate(-171.2 -21)" filter="url(#soft)"><path d="M193.5 144.7 L193.9 144.7 L194.3 144.7 L194.7 144.7 L195.1 144.7 L195.5 144.7 L195.9 144.7 L196.3 144.7 L196.7 144.7 L197.1 144.7 L197.5 144.7 L197.9 144.7 L198.3 144.7 L198.7 144.69 L199.1 144.69 L199.5 144.69 L199.9 144.69 L200.3 144.69 L200.7 144.69 L201.1 144.69 L201.5 144.69 L201.9 144.69 L202.3 144.68 L202.7 144.68 L203.1 144.68 L203.5 144.68 L203.9 144.68 L204.3 144.68 L204.7 144.67 L205.1 144.67 L205.5 144.67 L205.9 144.67 L206.3 144.67 L206.7 144.66 L207.1 144.66 L207.5 144.66 L207.9 144.66 L208.3 144.65 L208.7 144.65 L209.1 144.65 L209.5 144.65 L209.9 144.64 L210.3 144.64 L210.7 144.64 L211.1 144.63 L211.5 144.63 L211.9 144.63 L212.3 144.62 L212.7 144.62 L213.1 144.62 L213.5 144.61 L213.9 144.61 L214.3 144.61 L214.7 144.6 L215.1 144.6 L215.5 144.59 L215.9 144.58 L216.3 144.57 L216.7 144.56 L217.1 144.55 L217.5 144.53 L217.9 144.51 L218.3 144.49 L218.7 144.47 L219.1 144.45 L219.5 144.42 L219.9 144.4 L220.3 144.37 L220.7 144.35 L221.1 144.32 L221.5 144.3 L221.9 144.27 L222.3 144.25 L222.7 144.22 L223.1 144.2 L223.5 144.17 L223.9 144.15 L224.3 144.13 L224.7 144.11 L225.1 144.1 L225.5 144.08 L225.9 144.07 L226.3 144.05 L226.7 144.04 L227.1 144.03 L227.5 144.01 L227.9 144 L228.3 143.99 L228.7 143.98 L229.1 143.97 L229.5 143.96 L229.9 143.94 L230.3 143.93 L230.7 143.91 L231.1 143.9 L231.5 143.88 L231.9 143.86 L232.3 143.84 L232.7 143.82 L233.1 143.79 L233.5 143.76 L233.9 143.73 L234.3 143.69 L234.7 143.64 L235.1 143.59 L235.5 143.53 L235.9 143.46 L236.3 143.38 L236.7 143.3 L237.1 143.2 L237.5 143.1 L237.9 142.96 L238.3 142.76 L238.7 142.5 L239.1 142.19 L239.5 141.85 L239.9 141.47 L240.3 141.06 L240.7 140.63 L241.1 140.19 L241.5 139.68 L241.9 139.11 L242.3 138.47 L242.7 137.76 L243.1 137 L243.5 136.19 L243.9 135.34 L244.3 134.44 L244.7 133.52 L245.1 132.56 L245.5 131.52 L245.9 130.4 L246.3 129.19 L246.7 127.91 L247.1 126.55 L247.5 125.12 L247.9 123.64 L248.3 122.1 L248.7 120.5 L249.1 118.83 L249.5 117.02 L249.9 115.09 L250.3 113.05 L250.7 110.9 L251.1 108.66 L251.5 106.29 L251.9 103.65 L252.3 100.86 L252.7 98.03 L253.1 95.3 L253.5 92.65 L253.9 90.01 L254.3 87.37 L254.7 84.75 L255.1 82.16 L255.5 79.6 L255.9 77.08 L256.3 74.61 L256.7 72.2 L257.1 69.73 L257.5 67.21 L257.9 64.69 L258.3 62.23 L258.7 59.89 L259.1 57.73 L259.5 55.8 L259.9 54.16 L260.3 52.82 L260.7 51.67 L261.1 50.66 L261.5 49.72 L261.9 48.8 L262.3 47.86 L262.7 46.91 L263.1 46.02 L263.5 45.24 L263.9 44.62 L264.3 44.15 L264.7 43.71 L265.1 43.33 L265.5 43.04 L265.9 42.91 L266.3 42.97 L266.7 43.24 L267.1 43.66 L267.5 44.16 L267.9 44.68 L268.3 45.19 L268.7 45.77 L269.1 46.43 L269.5 47.15 L269.9 47.95 L270.3 48.81 L270.7 49.74 L271.1 50.84 L271.5 52.11 L271.9 53.5 L272.3 54.98 L272.7 56.5 L273.1 58.02 L273.5 59.5 L273.9 60.96 L274.3 62.44 L274.7 63.94 L275.1 65.47 L275.5 67.01 L275.6 67.4 L275.6 67.4 L276 71.31 L276.4 78.82 L276.8 92.44 L277.2 103.89 L277.6 112.5 L278 117.75 L278.4 122.03 L278.8 124.55 L279 124.9 L279 124.9 L279.4 126.32 L279.8 127.7 L280.2 129.04 L280.6 130.33 L281 131.59 L281.4 132.79 L281.8 133.94 L282.2 135.05 L282.6 136.11 L283 137.14 L283.4 138.13 L283.8 139.08 L284.2 140.01 L284.6 140.89 L285 141.75 L285.4 142.57 L285.8 143.37 L286.2 144.14 L286.6 144.89 L287 145.61 L287.4 146.32 L287.8 147.02 L288.2 147.71 L288.6 148.4 L289 149.08 L289.4 149.76 L289.8 150.44 L290.2 151.13 L290.6 151.83 L291 152.55 L291.4 153.28 L291.8 154.01 L292.2 154.75 L292.6 155.49 L293 156.23 L293.4 156.97 L293.8 157.72 L294.2 158.47 L294.6 159.22 L295 159.97 L295.4 160.72 L295.6 161.1 L295.6 161.1 L296 156.61 L296.4 152.39 L296.8 148.44 L297.2 144.77 L297.6 141.33 L298 138.15 L298.1 137.4 L298.1 137.4 L298.5 137.75 L298.9 138.1 L299.3 138.45 L299.7 138.79 L300.1 139.13 L300.5 139.47 L300.9 139.8 L301.3 140.13 L301.7 140.45 L302.1 140.77 L302.5 141.09 L302.9 141.41 L303.3 141.72 L303.7 142.02 L304.1 142.33 L304.5 142.63 L304.9 142.93 L305.3 143.22 L305.7 143.51 L306.1 143.79 L306.5 144.07 L306.9 144.35 L307.3 144.62 L307.7 144.89 L308.1 145.15 L308.5 145.42 L308.9 145.68 L309.3 145.94 L309.7 146.2 L310.1 146.47 L310.5 146.72 L310.9 146.98 L311.3 147.24 L311.7 147.5 L312.1 147.75 L312.5 148 L312.9 148.25 L313.3 148.5 L313.7 148.75 L314.1 148.99 L314.5 149.24 L314.9 149.48 L315.3 149.72 L315.6 149.9 L315.6 149.9 L316 146.47 L316.4 143.24 L316.8 140.22 L317.2 137.41 L317.6 134.77 L318 132.33 L318.1 131.75 L318.1 131.75 L318.5 131.87 L318.9 131.99 L319.3 132.1 L319.7 132.22 L320.1 132.33 L320.5 132.45 L320.9 132.56 L321.3 132.67 L321.7 132.79 L322.1 132.9 L322.5 133.01 L322.9 133.12 L323.3 133.23 L323.7 133.33 L324.1 133.44 L324.5 133.55 L324.9 133.65 L325.3 133.75 L325.7 133.86 L326.1 133.96 L326.5 134.06 L326.9 134.16 L327.3 134.26 L327.7 134.36 L328.1 134.45 L328.5 134.55 L328.9 134.64 L329.3 134.74 L329.7 134.83 L330.1 134.92 L330.5 135.01 L330.9 135.1 L331.3 135.19 L331.7 135.28 L332.1 135.37 L332.5 135.46 L332.9 135.54 L333.3 135.63 L333.7 135.71 L334.1 135.8 L334.5 135.88 L334.9 135.97 L335.3 136.05 L335.7 136.13 L336.1 136.21 L336.5 136.29 L336.9 136.37 L337.3 136.45 L337.7 136.53 L338.1 136.6 L338.5 136.68 L338.9 136.76 L339.3 136.83 L339.7 136.9 L340.1 136.98 L340.5 137.05 L340.9 137.12 L341.3 137.19 L341.7 137.26 L342.1 137.33 L342.5 137.4 L342.9 137.47 L343.3 137.54 L343.7 137.6 L344.1 137.67 L344.5 137.74 L344.9 137.8 L345.3 137.87 L345.7 137.93 L346.1 138 L346.5 138.06 L346.9 138.12 L347.3 138.19 L347.7 138.25 L348.1 138.31 L348.5 138.37 L348.9 138.43 L349.3 138.49 L349.7 138.55 L350.1 138.61 L350.5 138.66 L350.9 138.72 L351.3 138.78 L351.7 138.83 L352.1 138.88 L352.5 138.94 L352.9 138.99 L353.3 139.04 L353.7 139.09 L354.1 139.14 L354.5 139.19 L354.9 139.24 L355.3 139.29 L355.7 139.33 L356.1 139.38 L356.5 139.42 L356.9 139.47 L357.3 139.51 L357.7 139.56 L358.1 139.6 L358.5 139.65 L358.9 139.69 L359.3 139.73 L359.7 139.78 L360.1 139.82 L360.5 139.86 L360.9 139.9 L361.3 139.94 L361.7 139.98 L362.1 140.02 L362.5 140.06 L362.9 140.1 L363.3 140.14 L363.7 140.18 L364.1 140.21 L364.5 140.25 L364.9 140.29 L365.3 140.32 L365.7 140.36 L366.1 140.39 L366.5 140.43 L366.9 140.46 L367.3 140.49 L367.7 140.53 L368.1 140.56 L368.5 140.59 L368.9 140.62 L369.3 140.65 L369.7 140.68 L370.1 140.71 L370.5 140.74 L370.9 140.76 L371.3 140.79 L371.7 140.82 L372.1 140.84 L372.5 140.87 L372.9 140.9 L373.3 140.92 L373.7 140.95 L374.1 140.98 L374.5 141 L374.9 141.03 L375.3 141.05 L375.7 141.07 L376.1 141.1 L376.5 141.12 L376.9 141.15 L377.3 141.17 L377.7 141.19 L378.1 141.22 L378.5 141.24 L378.9 141.26 L379.3 141.28 L379.7 141.3 L380.1 141.33 L380.5 141.35 L380.9 141.37 L381.3 141.39 L381.7 141.41 L382.1 141.43 L382.5 141.45 L382.9 141.47 L383.3 141.49 L383.7 141.51 L384.1 141.53 L384.5 141.55 L384.9 141.57 L385.3 141.59 L385.7 141.61 L386.1 141.63 L386.5 141.64 L386.9 141.66 L387.3 141.68 L387.7 141.7 L388.1 141.72 L388.5 141.73 L388.9 141.75 L389.3 141.77 L389.7 141.79 L390.1 141.8 L390.5 141.82 L390.9 141.84 L391.3 141.85 L391.7 141.87 L392.1 141.89 L392.5 141.9 L392.9 141.92 L393.3 141.94 L393.7 141.95 L394.1 141.97 L394.5 141.98 L394.9 142 L395.3 142.01 L395.7 142.03 L396.1 142.04 L396.5 142.06 L396.9 142.07 L397.3 142.09 L397.7 142.1 L398.1 142.12 L398.5 142.13 L398.9 142.15 L399.3 142.16 L399.7 142.17 L400.1 142.19 L400.5 142.2 L400.9 142.21 L401.3 142.23 L401.7 142.24 L402.1 142.26 L402.5 142.27 L402.9 142.28 L403.3 142.29 L403.7 142.31 L404.1 142.32 L404.5 142.33 L404.9 142.35 L405.3 142.36 L405.7 142.37 L406.1 142.38 L406.5 142.4 L406.9 142.41 L407.3 142.42 L407.7 142.43 L408.1 142.44 L408.5 142.46 L408.9 142.47 L409.3 142.48 L409.7 142.49 L410.1 142.5 L410.5 142.51 L410.9 142.53 L411.3 142.54 L411.7 142.55 L412.1 142.56 L412.5 142.57 L412.9 142.58 L413.3 142.59 L413.7 142.61 L414.1 142.62 L414.5 142.63 L414.9 142.64 L415.3 142.65 L415.7 142.66 L416.1 142.67 L416.5 142.68 L416.9 142.69 L417.3 142.71 L417.7 142.72 L418.1 142.73 L418.5 142.74 L418.9 142.75 L419.3 142.76 L419.7 142.77 L420.1 142.78 L420.5 142.79 L420.9 142.8 L421.3 142.81 L421.7 142.82 L422.1 142.83 L422.5 142.84 L422.9 142.85 L423.3 142.86 L423.7 142.87 L424.1 142.88 L424.5 142.89 L424.9 142.89 L425.3 142.9 L425.7 142.91 L426.1 142.92 L426.5 142.93 L426.9 142.94 L427.3 142.95 L427.7 142.95 L428.1 142.96 L428.5 142.97 L428.9 142.98 L429.3 142.99 L429.7 142.99 L430.1 143 L430.5 143.01 L430.9 143.02 L431.3 143.02 L431.7 143.03 L432.1 143.04 L432.5 143.05 L432.9 143.05 L433.3 143.06 L433.7 143.07 L434.1 143.07 L434.5 143.08 L434.9 143.09 L435.3 143.09 L435.7 143.1 L436.1 143.11 L436.5 143.11 L436.9 143.12 L437.3 143.13 L437.7 143.13 L438.1 143.14 L438.5 143.14 L438.9 143.15 L439.3 143.16 L439.7 143.16 L440.1 143.17 L440.5 143.17 L440.9 143.18 L441.3 143.19 L441.7 143.19 L442.1 143.2 L442.5 143.2 L442.9 143.21 L443.3 143.21 L443.7 143.22 L444.1 143.23 L444.5 143.23 L444.9 143.24 L445.3 143.24 L445.7 143.25 L446.1 143.25 L446.5 143.26 L446.9 143.26 L447.3 143.27 L447.7 143.27 L448.1 143.28 L448.5 143.28 L448.9 143.29 L449.3 143.29 L449.7 143.3 L450.1 143.3 L450.5 143.31 L450.9 143.31 L451.3 143.32 L451.7 143.32 L452.1 143.32 L452.5 143.33 L452.9 143.33 L453.3 143.34 L453.7 143.34 L454.1 143.35 L454.5 143.35 L454.9 143.36 L455.3 143.36 L455.7 143.36 L456.1 143.37 L456.5 143.37 L456.9 143.38 L457.3 143.38 L457.7 143.39 L458.1 143.39 L458.5 143.39 L458.9 143.4 L459.3 143.4 L459.7 143.41 L460.1 143.41 L460.5 143.41 L460.9 143.42 L461.3 143.42 L461.7 143.43 L462.1 143.43 L462.5 143.43 L462.9 143.44 L463.3 143.44 L463.7 143.44 L464.1 143.45 L464.5 143.45 L464.9 143.46 L465.3 143.46 L465.7 143.46 L466.1 143.47 L466.5 143.47 L466.9 143.47 L467.3 143.48 L467.7 143.48 L468.1 143.48 L468.5 143.49 L468.9 143.49 L469.3 143.49 L469.7 143.49 L470.1 143.5 L470.5 143.5 L470.5 143.5" fill="none" stroke="#74ee84" stroke-width="0.95" stroke-linejoin="round" stroke-linecap="round"/></g>
</g>
<g fill="#000" opacity="0.46" filter="url(#sh)"><rect x="832" y="24.2" width="8" height="160.2"/><rect x="518.7" y="181.4" width="316.5" height="8"/></g>
<rect x="515.7" y="21" width="320.1" height="163.8" fill="#fff" stroke="#2a2a2a" stroke-width="1.45"/>
<g transform="translate(515.7 21)">
<use href="#logo" x="0.6"/>
<g filter="url(#softt)">
<text x="159.65" y="9.1" font-size="4.1" font-weight="bold" text-anchor="middle" fill="#222" textLength="41" lengthAdjust="spacingAndGlyphs">Statistical Eye Diagram</text>
<text x="159.65" y="13.3" font-size="3.3" text-anchor="middle" fill="#555" textLength="70.5" lengthAdjust="spacingAndGlyphs">\txbuff_statemod_Rx \txbuff_ddr_Tx Technology</text>
</g>
<rect x="21.7" y="18.3" width="276.3" height="127" fill="#fff" stroke="#c4c4c4" stroke-width="0.9"/><path d="M21.7 145.3v2.6M90.77 145.3v2.6M159.85 145.3v2.6M228.92 145.3v2.6M35.51 145.3v1.3M49.33 145.3v1.3M63.14 145.3v1.3M76.96 145.3v1.3M104.59 145.3v1.3M118.4 145.3v1.3M132.22 145.3v1.3M146.03 145.3v1.3M173.66 145.3v1.3M187.48 145.3v1.3M201.29 145.3v1.3M215.11 145.3v1.3M242.74 145.3v1.3M256.55 145.3v1.3M270.37 145.3v1.3M284.18 145.3v1.3M21.7 144.4h-3.6M21.7 123.5h-3.6M21.7 102.6h-3.6M21.7 81.7h-3.6M21.7 60.8h-3.6M21.7 39.9h-3.6M21.7 133.95h-1.6M21.7 113.05h-1.6M21.7 92.15h-1.6M21.7 71.25h-1.6M21.7 50.35h-1.6M21.7 29.45h-1.6" stroke="#707070" stroke-width="0.65" fill="none"/><path d="M21.7 18.3V145.3H298" stroke="#a8a8a8" stroke-width="0.8" fill="none"/>
<g filter="url(#softt)" font-size="3.3" fill="#555">
<text x="17.1" y="145.6" text-anchor="end">-0.68</text>
<text x="17.1" y="124.7" text-anchor="end">-0.45</text>
<text x="17.1" y="103.8" text-anchor="end">-0.23</text>
<text x="17.1" y="82.9" text-anchor="end">0.0</text>
<text x="17.1" y="62" text-anchor="end">0.23</text>
<text x="17.1" y="41.1" text-anchor="end">0.45</text>
<text x="22.3" y="153.6" text-anchor="middle">0</text>
<text x="91.37" y="153.6" text-anchor="middle">0.50</text>
<text x="160.45" y="153.6" text-anchor="middle">1.0</text>
<text x="229.52" y="153.6" text-anchor="middle">1.50</text>
<text x="159.85" y="161.5" text-anchor="middle">Time (UI)</text>
<text transform="translate(4.7 81.7) rotate(-90)" text-anchor="middle">Volts (V)</text>
<text x="302.6" y="29.2">1.0E-1</text>
<text x="302.6" y="55.2">6.3E-4</text>
<text x="302.6" y="81.2">3.9E-6</text>
<text x="302.6" y="107.2">2.5E-10</text>
<text x="302.6" y="133.2">1.5E-42</text>
<text transform="translate(313.6 81.7) rotate(90)" text-anchor="middle" font-size="3.1">Probability</text>
</g>
<rect x="299.5" y="28.0" width="2.3" height="104.6" fill="url(#cbar)"/>
</g>
<clipPath id="ec0"><rect x="537.9" y="39.8" width="275.3" height="126"/></clipPath>
<g clip-path="url(#ec0)"><g filter="url(#jet)">
<rect x="505" y="21" width="345" height="163.8" fill="#000"/>
<linearGradient id="e1g" gradientUnits="userSpaceOnUse" x1="0" y1="52.35" x2="0" y2="153.25"><stop offset="0.0000" stop-color="rgb(23,23,23)"/><stop offset="0.0079" stop-color="rgb(23,23,23)"/><stop offset="0.0168" stop-color="rgb(40,40,40)"/><stop offset="0.0337" stop-color="rgb(92,92,92)"/><stop offset="0.0515" stop-color="rgb(153,153,153)"/><stop offset="0.0694" stop-color="rgb(196,196,196)"/><stop offset="0.0892" stop-color="rgb(210,210,210)"/><stop offset="0.1140" stop-color="rgb(214,214,214)"/><stop offset="0.1982" stop-color="rgb(216,216,216)"/><stop offset="0.8018" stop-color="rgb(216,216,216)"/><stop offset="0.8860" stop-color="rgb(214,214,214)"/><stop offset="0.9128" stop-color="rgb(210,210,210)"/><stop offset="0.9326" stop-color="rgb(196,196,196)"/><stop offset="0.9504" stop-color="rgb(153,153,153)"/><stop offset="0.9683" stop-color="rgb(92,92,92)"/><stop offset="0.9871" stop-color="rgb(40,40,40)"/><stop offset="0.9970" stop-color="rgb(23,23,23)"/><stop offset="1.0000" stop-color="rgb(23,23,23)"/></linearGradient>
<rect x="520" y="52.35" width="310" height="100.9" fill="url(#e1g)"/>
<clipPath id="e1in"><rect x="520" y="61.85" width="310" height="81.9"/></clipPath>
<g clip-path="url(#e1in)">
<g filter="url(#b4)">
</g>
<g filter="url(#b3)">
<polygon points="455.32,137.7 475.32,140.7 501.32,141.7 531.33,139.2 556.33,134.2 575.33,127.7 591.33,122.2 575.33,115.2 556.33,110.2 531.33,106.7 511.32,105.2 497.32,103.2 506.32,110.7 516.33,116.4 523.33,121.2 513.33,126.7 491.32,130.2 473.32,132.7" fill="rgb(235,235,235)"/>
<path d="M475.32 136.5 C493.32 136.7 519.33 136.7 547.33 132.7 S573.33 127.2 587.33 122" stroke="rgb(241,241,241)" stroke-width="9" fill="none" stroke-linecap="round"/>
<polygon points="541.33,134.2 561.33,130.2 586.33,122.2 569.33,117.7 555.33,116.2 563.33,122.7" fill="rgb(252,252,252)"/>
<polygon points="455.32,67.7 475.32,64.7 501.32,63.7 531.33,66.2 556.33,71.2 575.33,77.7 591.33,83.2 575.33,90.2 556.33,95.2 531.33,98.7 511.32,100.2 497.32,102.2 506.32,94.7 516.33,89 523.33,84.2 513.33,78.7 491.32,75.2 473.32,72.7" fill="rgb(235,235,235)"/>
<path d="M475.32 68.9 C493.32 68.7 519.33 68.7 547.33 72.7 S573.33 78.2 587.33 83.4" stroke="rgb(241,241,241)" stroke-width="9" fill="none" stroke-linecap="round"/>
<polygon points="541.33,71.2 561.33,75.2 586.33,83.2 569.33,87.7 555.33,89.2 563.33,82.7" fill="rgb(252,252,252)"/>
<polygon points="423.32,102.7 459.32,91.2 470.32,90.9 503.32,102.7 470.32,114.5 459.32,114.2" fill="rgb(255,255,255)"/>
<ellipse cx="532.83" cy="103" rx="21" ry="5.4" fill="rgb(190,190,190)"/>
<polygon points="593.48,137.7 613.48,140.7 639.48,141.7 669.48,139.2 694.48,134.2 713.48,127.7 729.48,122.2 713.48,115.2 694.48,110.2 669.48,106.7 649.48,105.2 635.48,103.2 644.48,110.7 654.48,116.4 661.48,121.2 651.48,126.7 629.48,130.2 611.48,132.7" fill="rgb(235,235,235)"/>
<path d="M613.48 136.5 C631.48 136.7 657.48 136.7 685.48 132.7 S711.48 127.2 725.48 122" stroke="rgb(241,241,241)" stroke-width="9" fill="none" stroke-linecap="round"/>
<polygon points="679.48,134.2 699.48,130.2 724.48,122.2 707.48,117.7 693.48,116.2 701.48,122.7" fill="rgb(252,252,252)"/>
<polygon points="593.48,67.7 613.48,64.7 639.48,63.7 669.48,66.2 694.48,71.2 713.48,77.7 729.48,83.2 713.48,90.2 694.48,95.2 669.48,98.7 649.48,100.2 635.48,102.2 644.48,94.7 654.48,89 661.48,84.2 651.48,78.7 629.48,75.2 611.48,72.7" fill="rgb(235,235,235)"/>
<path d="M613.48 68.9 C631.48 68.7 657.48 68.7 685.48 72.7 S711.48 78.2 725.48 83.4" stroke="rgb(241,241,241)" stroke-width="9" fill="none" stroke-linecap="round"/>
<polygon points="679.48,71.2 699.48,75.2 724.48,83.2 707.48,87.7 693.48,89.2 701.48,82.7" fill="rgb(252,252,252)"/>
<polygon points="561.48,102.7 597.48,91.2 608.48,90.9 641.48,102.7 608.48,114.5 597.48,114.2" fill="rgb(255,255,255)"/>
<ellipse cx="670.98" cy="103" rx="21" ry="5.4" fill="rgb(190,190,190)"/>
<polygon points="731.62,137.7 751.62,140.7 777.62,141.7 807.62,139.2 832.62,134.2 851.62,127.7 867.62,122.2 851.62,115.2 832.62,110.2 807.62,106.7 787.62,105.2 773.62,103.2 782.62,110.7 792.62,116.4 799.62,121.2 789.62,126.7 767.62,130.2 749.62,132.7" fill="rgb(235,235,235)"/>
<path d="M751.62 136.5 C769.62 136.7 795.62 136.7 823.62 132.7 S849.62 127.2 863.62 122" stroke="rgb(241,241,241)" stroke-width="9" fill="none" stroke-linecap="round"/>
<polygon points="817.62,134.2 837.62,130.2 862.62,122.2 845.62,117.7 831.62,116.2 839.62,122.7" fill="rgb(252,252,252)"/>
<polygon points="731.62,67.7 751.62,64.7 777.62,63.7 807.62,66.2 832.62,71.2 851.62,77.7 867.62,83.2 851.62,90.2 832.62,95.2 807.62,98.7 787.62,100.2 773.62,102.2 782.62,94.7 792.62,89 799.62,84.2 789.62,78.7 767.62,75.2 749.62,72.7" fill="rgb(235,235,235)"/>
<path d="M751.62 68.9 C769.62 68.7 795.62 68.7 823.62 72.7 S849.62 78.2 863.62 83.4" stroke="rgb(241,241,241)" stroke-width="9" fill="none" stroke-linecap="round"/>
<polygon points="817.62,71.2 837.62,75.2 862.62,83.2 845.62,87.7 831.62,89.2 839.62,82.7" fill="rgb(252,252,252)"/>
<polygon points="699.62,102.7 735.62,91.2 746.62,90.9 779.62,102.7 746.62,114.5 735.62,114.2" fill="rgb(255,255,255)"/>
<ellipse cx="809.12" cy="103" rx="21" ry="5.4" fill="rgb(190,190,190)"/>
<polygon points="869.77,137.7 889.77,140.7 915.77,141.7 945.77,139.2 970.77,134.2 989.77,127.7 1005.77,122.2 989.77,115.2 970.77,110.2 945.77,106.7 925.77,105.2 911.77,103.2 920.77,110.7 930.77,116.4 937.77,121.2 927.77,126.7 905.77,130.2 887.77,132.7" fill="rgb(235,235,235)"/>
<path d="M889.77 136.5 C907.77 136.7 933.77 136.7 961.77 132.7 S987.77 127.2 1001.77 122" stroke="rgb(241,241,241)" stroke-width="9" fill="none" stroke-linecap="round"/>
<polygon points="955.77,134.2 975.77,130.2 1000.77,122.2 983.77,117.7 969.77,116.2 977.77,122.7" fill="rgb(252,252,252)"/>
<polygon points="869.77,67.7 889.77,64.7 915.77,63.7 945.77,66.2 970.77,71.2 989.77,77.7 1005.77,83.2 989.77,90.2 970.77,95.2 945.77,98.7 925.77,100.2 911.77,102.2 920.77,94.7 930.77,89 937.77,84.2 927.77,78.7 905.77,75.2 887.77,72.7" fill="rgb(235,235,235)"/>
<path d="M889.77 68.9 C907.77 68.7 933.77 68.7 961.77 72.7 S987.77 78.2 1001.77 83.4" stroke="rgb(241,241,241)" stroke-width="9" fill="none" stroke-linecap="round"/>
<polygon points="955.77,71.2 975.77,75.2 1000.77,83.2 983.77,87.7 969.77,89.2 977.77,82.7" fill="rgb(252,252,252)"/>
<polygon points="837.77,102.7 873.77,91.2 884.77,90.9 917.77,102.7 884.77,114.5 873.77,114.2" fill="rgb(255,255,255)"/>
<ellipse cx="947.27" cy="103" rx="21" ry="5.4" fill="rgb(190,190,190)"/>
</g>
<g filter="url(#b2)">
<polygon points="454.32,118.7 457.32,122.3 469.32,123.3 487.32,124.5 519.33,126.1 519.33,125.1 491.32,119.7 471.32,114.5 458.32,114.9" fill="rgb(184,184,184)"/>
<polygon points="454.32,86.7 457.32,83.1 469.32,82.1 487.32,80.9 519.33,79.3 519.33,80.3 491.32,85.7 471.32,90.9 458.32,90.5" fill="rgb(184,184,184)"/>
<polygon points="592.48,118.7 595.48,122.3 607.48,123.3 625.48,124.5 657.48,126.1 657.48,125.1 629.48,119.7 609.48,114.5 596.48,114.9" fill="rgb(184,184,184)"/>
<polygon points="592.48,86.7 595.48,83.1 607.48,82.1 625.48,80.9 657.48,79.3 657.48,80.3 629.48,85.7 609.48,90.9 596.48,90.5" fill="rgb(184,184,184)"/>
<polygon points="730.62,118.7 733.62,122.3 745.62,123.3 763.62,124.5 795.62,126.1 795.62,125.1 767.62,119.7 747.62,114.5 734.62,114.9" fill="rgb(184,184,184)"/>
<polygon points="730.62,86.7 733.62,83.1 745.62,82.1 763.62,80.9 795.62,79.3 795.62,80.3 767.62,85.7 747.62,90.9 734.62,90.5" fill="rgb(184,184,184)"/>
<polygon points="868.77,118.7 871.77,122.3 883.77,123.3 901.77,124.5 933.77,126.1 933.77,125.1 905.77,119.7 885.77,114.5 872.77,114.9" fill="rgb(184,184,184)"/>
<polygon points="868.77,86.7 871.77,83.1 883.77,82.1 901.77,80.9 933.77,79.3 933.77,80.3 905.77,85.7 885.77,90.9 872.77,90.5" fill="rgb(184,184,184)"/>
</g>
<g filter="url(#b1)">
<polygon points="460.32,118.5 462.82,120.5 470.32,121.3 484.32,122.3 484.32,121.2 471.32,116.9 462.82,116.5" fill="rgb(94,94,94)"/>
<polygon points="460.32,86.9 462.82,84.9 470.32,84.1 484.32,83.1 484.32,84.2 471.32,88.5 462.82,88.9" fill="rgb(94,94,94)"/>
<polygon points="598.48,118.5 600.98,120.5 608.48,121.3 622.48,122.3 622.48,121.2 609.48,116.9 600.98,116.5" fill="rgb(94,94,94)"/>
<polygon points="598.48,86.9 600.98,84.9 608.48,84.1 622.48,83.1 622.48,84.2 609.48,88.5 600.98,88.9" fill="rgb(94,94,94)"/>
<polygon points="736.62,118.5 739.12,120.5 746.62,121.3 760.62,122.3 760.62,121.2 747.62,116.9 739.12,116.5" fill="rgb(94,94,94)"/>
<polygon points="736.62,86.9 739.12,84.9 746.62,84.1 760.62,83.1 760.62,84.2 747.62,88.5 739.12,88.9" fill="rgb(94,94,94)"/>
<polygon points="874.77,118.5 877.27,120.5 884.77,121.3 898.77,122.3 898.77,121.2 885.77,116.9 877.27,116.5" fill="rgb(94,94,94)"/>
<polygon points="874.77,86.9 877.27,84.9 884.77,84.1 898.77,83.1 898.77,84.2 885.77,88.5 877.27,88.9" fill="rgb(94,94,94)"/>
</g>
</g>
</g></g>
<g fill="#000" opacity="0.46" filter="url(#sh)"><rect x="832" y="203.3" width="8" height="160.2"/><rect x="518.7" y="360.5" width="316.5" height="8"/></g>
<rect x="515.7" y="200.1" width="320.1" height="163.8" fill="#fff" stroke="#2a2a2a" stroke-width="1.45"/>
<g transform="translate(515.7 200.1)">
<use href="#logo" x="0.6"/>
<g filter="url(#softt)">
<text x="159.65" y="9.1" font-size="4.1" font-weight="bold" text-anchor="middle" fill="#222" textLength="41" lengthAdjust="spacingAndGlyphs">Statistical Eye Diagram</text>
<text x="159.65" y="13.3" font-size="3.3" text-anchor="middle" fill="#555" textLength="70.5" lengthAdjust="spacingAndGlyphs">\txbuff_statemod_Rx \txbuff_ddr_Tx Technology</text>
</g>
<rect x="21.7" y="18.3" width="276.3" height="127" fill="#fff" stroke="#c4c4c4" stroke-width="0.9"/><path d="M21.7 145.3v2.6M90.77 145.3v2.6M159.85 145.3v2.6M228.92 145.3v2.6M35.51 145.3v1.3M49.33 145.3v1.3M63.14 145.3v1.3M76.96 145.3v1.3M104.59 145.3v1.3M118.4 145.3v1.3M132.22 145.3v1.3M146.03 145.3v1.3M173.66 145.3v1.3M187.48 145.3v1.3M201.29 145.3v1.3M215.11 145.3v1.3M242.74 145.3v1.3M256.55 145.3v1.3M270.37 145.3v1.3M284.18 145.3v1.3M21.7 144.7h-3.6M21.7 124.4h-3.6M21.7 103.5h-3.6M21.7 82.6h-3.6M21.7 61.7h-3.6M21.7 40.8h-3.6M21.7 134.85h-1.6M21.7 113.95h-1.6M21.7 93.05h-1.6M21.7 72.15h-1.6M21.7 51.25h-1.6M21.7 30.35h-1.6" stroke="#707070" stroke-width="0.65" fill="none"/><path d="M21.7 18.3V145.3H298" stroke="#a8a8a8" stroke-width="0.8" fill="none"/>
<g filter="url(#softt)" font-size="3.3" fill="#555">
<text x="17.1" y="145.9" text-anchor="end">-0.68</text>
<text x="17.1" y="125.6" text-anchor="end">-0.45</text>
<text x="17.1" y="104.7" text-anchor="end">-0.23</text>
<text x="17.1" y="83.8" text-anchor="end">0.0</text>
<text x="17.1" y="62.9" text-anchor="end">0.23</text>
<text x="17.1" y="42" text-anchor="end">0.45</text>
<text x="22.3" y="153.6" text-anchor="middle">0</text>
<text x="91.37" y="153.6" text-anchor="middle">0.50</text>
<text x="160.45" y="153.6" text-anchor="middle">1.0</text>
<text x="229.52" y="153.6" text-anchor="middle">1.50</text>
<text x="159.85" y="161.5" text-anchor="middle">Time (UI)</text>
<text transform="translate(4.7 82.6) rotate(-90)" text-anchor="middle">Volts (V)</text>
<text x="302.6" y="29.2">1E-1</text>
<text x="302.6" y="55.2">1.6E-1</text>
<text x="302.6" y="81.2">2.5E-4</text>
<text x="302.6" y="107.2">4.0E-8</text>
<text x="302.6" y="133.2">6E-45</text>
<text transform="translate(313.6 82.6) rotate(90)" text-anchor="middle" font-size="3.1">Probability</text>
</g>
<rect x="299.5" y="28.0" width="2.3" height="104.6" fill="url(#cbar)"/>
</g>
<g fill="#000" opacity="0.46" filter="url(#sh)"><rect x="832" y="381.6" width="8" height="160.2"/><rect x="518.7" y="538.8" width="316.5" height="8"/></g>
<rect x="515.7" y="378.4" width="320.1" height="163.8" fill="#fff" stroke="#2a2a2a" stroke-width="1.45"/>
<g transform="translate(515.7 378.4)">
<use href="#logo" x="0.6"/>
<g filter="url(#softt)">
<text x="159.65" y="9.1" font-size="4.1" font-weight="bold" text-anchor="middle" fill="#222" textLength="41" lengthAdjust="spacingAndGlyphs">Statistical Eye Diagram</text>
<text x="159.65" y="13.3" font-size="3.3" text-anchor="middle" fill="#555" textLength="70.5" lengthAdjust="spacingAndGlyphs">\txbuff_statemod_Rx \txbuff_ddr_Tx Technology</text>
</g>
<rect x="21.7" y="18.3" width="276.3" height="127" fill="#fff" stroke="#c4c4c4" stroke-width="0.9"/><path d="M21.7 145.3v2.6M90.77 145.3v2.6M159.85 145.3v2.6M228.92 145.3v2.6M35.51 145.3v1.3M49.33 145.3v1.3M63.14 145.3v1.3M76.96 145.3v1.3M104.59 145.3v1.3M118.4 145.3v1.3M132.22 145.3v1.3M146.03 145.3v1.3M173.66 145.3v1.3M187.48 145.3v1.3M201.29 145.3v1.3M215.11 145.3v1.3M242.74 145.3v1.3M256.55 145.3v1.3M270.37 145.3v1.3M284.18 145.3v1.3M21.7 144.7h-3.6M21.7 124.1h-3.6M21.7 103.2h-3.6M21.7 82.3h-3.6M21.7 61.4h-3.6M21.7 40.5h-3.6M21.7 134.55h-1.6M21.7 113.65h-1.6M21.7 92.75h-1.6M21.7 71.85h-1.6M21.7 50.95h-1.6M21.7 30.05h-1.6" stroke="#707070" stroke-width="0.65" fill="none"/><path d="M21.7 18.3V145.3H298" stroke="#a8a8a8" stroke-width="0.8" fill="none"/>
<g filter="url(#softt)" font-size="3.3" fill="#555">
<text x="17.1" y="145.9" text-anchor="end">-0.68</text>
<text x="17.1" y="125.3" text-anchor="end">-0.45</text>
<text x="17.1" y="104.4" text-anchor="end">-0.23</text>
<text x="17.1" y="83.5" text-anchor="end">0.0</text>
<text x="17.1" y="62.6" text-anchor="end">0.23</text>
<text x="17.1" y="41.7" text-anchor="end">0.45</text>
<text x="22.3" y="153.6" text-anchor="middle">0</text>
<text x="91.37" y="153.6" text-anchor="middle">0.50</text>
<text x="160.45" y="153.6" text-anchor="middle">1.0</text>
<text x="229.52" y="153.6" text-anchor="middle">1.50</text>
<text x="159.85" y="161.5" text-anchor="middle">Time (UI)</text>
<text transform="translate(4.7 82.3) rotate(-90)" text-anchor="middle">Volts (V)</text>
<text x="302.6" y="29.2">1.0E-1</text>
<text x="302.6" y="55.2">1.6E-1</text>
<text x="302.6" y="81.2">2E-2</text>
<text x="302.6" y="107.2">4.0E-8</text>
<text x="302.6" y="133.2">6E-45</text>
<text transform="translate(313.6 82.3) rotate(90)" text-anchor="middle" font-size="3.1">Probability</text>
</g>
<rect x="299.5" y="28.0" width="2.3" height="104.6" fill="url(#cbar)"/>
</g>
<clipPath id="ec1"><rect x="537.9" y="218.9" width="275.3" height="126"/></clipPath>
<g clip-path="url(#ec1)"><g filter="url(#jet)">
<rect x="505" y="200.1" width="345" height="163.8" fill="#000"/>
<g filter="url(#b35)">
<polygon points="476.05,246.1 539.05,246.1 587.05,240.45 591.55,240.85 598.55,237.65 602.05,235.65 605.05,236.25 608.05,242.45 609.45,246.1 614.2,246.1 677.2,246.1 725.2,240.45 729.7,240.85 736.7,237.65 740.2,235.65 743.2,236.25 746.2,242.45 747.6,246.1 752.35,246.1 815.35,246.1 863.35,240.45 867.85,240.85 874.85,237.65 878.35,235.65 881.35,236.25 884.35,242.45 885.75,246.1 885.75,318.8 884.35,322.45 881.35,328.65 878.35,329.25 874.85,327.25 867.85,324.05 863.35,324.45 815.35,318.8 752.35,318.8 747.6,318.8 746.2,322.45 743.2,328.65 740.2,329.25 736.7,327.25 729.7,324.05 725.2,324.45 677.2,318.8 614.2,318.8 609.45,318.8 608.05,322.45 605.05,328.65 602.05,329.25 598.55,327.25 591.55,324.05 587.05,324.45 539.05,318.8 476.05,318.8" fill="rgb(223,223,223)"/>
</g>
<g filter="url(#b28)">
<polygon points="475.85,282.45 478.62,282.31 481.39,282.04 484.16,281.69 486.93,281.27 489.7,280.81 492.47,280.32 495.23,279.8 498,279.27 500.77,278.75 503.54,278.23 506.31,277.74 509.08,277.27 511.85,276.85 514.62,276.47 517.39,276.14 520.16,275.87 522.93,275.67 525.7,275.53 528.47,275.46 531.23,275.46 534,275.53 536.77,275.67 539.54,275.87 542.31,276.14 545.08,276.47 547.85,276.85 550.62,277.27 553.39,277.74 556.16,278.23 558.93,278.75 561.7,279.27 564.47,279.8 567.23,280.32 570,280.81 572.77,281.27 575.54,281.69 578.31,282.04 581.08,282.31 583.85,282.45 583.85,282.45 581.08,282.59 578.31,282.86 575.54,283.21 572.77,283.63 570,284.09 567.23,284.58 564.47,285.1 561.7,285.63 558.93,286.15 556.16,286.67 553.39,287.16 550.62,287.63 547.85,288.05 545.08,288.43 542.31,288.76 539.54,289.03 536.77,289.23 534,289.37 531.23,289.44 528.47,289.44 525.7,289.37 522.93,289.23 520.16,289.03 517.39,288.76 514.62,288.43 511.85,288.05 509.08,287.63 506.31,287.16 503.54,286.67 500.77,286.15 498,285.63 495.23,285.1 492.47,284.58 489.7,284.09 486.93,283.63 484.16,283.21 481.39,282.86 478.62,282.59 475.85,282.45" fill="rgb(0,0,0)"/>
<polygon points="614,282.45 616.77,282.31 619.54,282.04 622.31,281.69 625.08,281.27 627.85,280.81 630.62,280.32 633.38,279.8 636.15,279.27 638.92,278.75 641.69,278.23 644.46,277.74 647.23,277.27 650,276.85 652.77,276.47 655.54,276.14 658.31,275.87 661.08,275.67 663.85,275.53 666.62,275.46 669.38,275.46 672.15,275.53 674.92,275.67 677.69,275.87 680.46,276.14 683.23,276.47 686,276.85 688.77,277.27 691.54,277.74 694.31,278.23 697.08,278.75 699.85,279.27 702.62,279.8 705.38,280.32 708.15,280.81 710.92,281.27 713.69,281.69 716.46,282.04 719.23,282.31 722,282.45 722,282.45 719.23,282.59 716.46,282.86 713.69,283.21 710.92,283.63 708.15,284.09 705.38,284.58 702.62,285.1 699.85,285.63 697.08,286.15 694.31,286.67 691.54,287.16 688.77,287.63 686,288.05 683.23,288.43 680.46,288.76 677.69,289.03 674.92,289.23 672.15,289.37 669.38,289.44 666.62,289.44 663.85,289.37 661.08,289.23 658.31,289.03 655.54,288.76 652.77,288.43 650,288.05 647.23,287.63 644.46,287.16 641.69,286.67 638.92,286.15 636.15,285.63 633.38,285.1 630.62,284.58 627.85,284.09 625.08,283.63 622.31,283.21 619.54,282.86 616.77,282.59 614,282.45" fill="rgb(0,0,0)"/>
<polygon points="752.15,282.45 754.92,282.31 757.69,282.04 760.46,281.69 763.23,281.27 766,280.81 768.77,280.32 771.53,279.8 774.3,279.27 777.07,278.75 779.84,278.23 782.61,277.74 785.38,277.27 788.15,276.85 790.92,276.47 793.69,276.14 796.46,275.87 799.23,275.67 802,275.53 804.77,275.46 807.53,275.46 810.3,275.53 813.07,275.67 815.84,275.87 818.61,276.14 821.38,276.47 824.15,276.85 826.92,277.27 829.69,277.74 832.46,278.23 835.23,278.75 838,279.27 840.77,279.8 843.53,280.32 846.3,280.81 849.07,281.27 851.84,281.69 854.61,282.04 857.38,282.31 860.15,282.45 860.15,282.45 857.38,282.59 854.61,282.86 851.84,283.21 849.07,283.63 846.3,284.09 843.53,284.58 840.77,285.1 838,285.63 835.23,286.15 832.46,286.67 829.69,287.16 826.92,287.63 824.15,288.05 821.38,288.43 818.61,288.76 815.84,289.03 813.07,289.23 810.3,289.37 807.53,289.44 804.77,289.44 802,289.37 799.23,289.23 796.46,289.03 793.69,288.76 790.92,288.43 788.15,288.05 785.38,287.63 782.61,287.16 779.84,286.67 777.07,286.15 774.3,285.63 771.53,285.1 768.77,284.58 766,284.09 763.23,283.63 760.46,283.21 757.69,282.86 754.92,282.59 752.15,282.45" fill="rgb(0,0,0)"/>
</g>
<g filter="url(#b1)">
<path d="M610.45 320.95 L612.65 312.45 L615.05 301.95 L614.45 290.45 L613.25 282.95" stroke="rgb(201,201,201)" stroke-width="1.5" fill="none" stroke-linecap="round" stroke-linejoin="round"/>
<path d="M609.85 319.95 L611.65 313.45 L613.65 306.45" stroke="rgb(194,194,194)" stroke-width="2.2" fill="none" stroke-linecap="round" stroke-linejoin="round"/>
<path d="M610.45 243.95 L612.65 252.45 L615.05 262.95 L614.45 274.45 L613.25 281.95" stroke="rgb(201,201,201)" stroke-width="1.5" fill="none" stroke-linecap="round" stroke-linejoin="round"/>
<path d="M609.85 244.95 L611.65 251.45 L613.65 258.45" stroke="rgb(194,194,194)" stroke-width="2.2" fill="none" stroke-linecap="round" stroke-linejoin="round"/>
<path d="M748.6 320.95 L750.8 312.45 L753.2 301.95 L752.6 290.45 L751.4 282.95" stroke="rgb(201,201,201)" stroke-width="1.5" fill="none" stroke-linecap="round" stroke-linejoin="round"/>
<path d="M748 319.95 L749.8 313.45 L751.8 306.45" stroke="rgb(194,194,194)" stroke-width="2.2" fill="none" stroke-linecap="round" stroke-linejoin="round"/>
<path d="M748.6 243.95 L750.8 252.45 L753.2 262.95 L752.6 274.45 L751.4 281.95" stroke="rgb(201,201,201)" stroke-width="1.5" fill="none" stroke-linecap="round" stroke-linejoin="round"/>
<path d="M748 244.95 L749.8 251.45 L751.8 258.45" stroke="rgb(194,194,194)" stroke-width="2.2" fill="none" stroke-linecap="round" stroke-linejoin="round"/>
<path d="M886.75 320.95 L888.95 312.45 L891.35 301.95 L890.75 290.45 L889.55 282.95" stroke="rgb(201,201,201)" stroke-width="1.5" fill="none" stroke-linecap="round" stroke-linejoin="round"/>
<path d="M886.15 319.95 L887.95 313.45 L889.95 306.45" stroke="rgb(194,194,194)" stroke-width="2.2" fill="none" stroke-linecap="round" stroke-linejoin="round"/>
<path d="M886.75 243.95 L888.95 252.45 L891.35 262.95 L890.75 274.45 L889.55 281.95" stroke="rgb(201,201,201)" stroke-width="1.5" fill="none" stroke-linecap="round" stroke-linejoin="round"/>
<path d="M886.15 244.95 L887.95 251.45 L889.95 258.45" stroke="rgb(194,194,194)" stroke-width="2.2" fill="none" stroke-linecap="round" stroke-linejoin="round"/>
</g>
<g filter="url(#b2)">
<path d="M616.25 308.45 L618.55 298.45 L617.55 289.45" stroke="rgb(212,212,212)" stroke-width="3.0" fill="none" stroke-linecap="round" stroke-linejoin="round"/>
<path d="M616.25 256.45 L618.55 266.45 L617.55 275.45" stroke="rgb(212,212,212)" stroke-width="3.0" fill="none" stroke-linecap="round" stroke-linejoin="round"/>
<path d="M754.4 308.45 L756.7 298.45 L755.7 289.45" stroke="rgb(212,212,212)" stroke-width="3.0" fill="none" stroke-linecap="round" stroke-linejoin="round"/>
<path d="M754.4 256.45 L756.7 266.45 L755.7 275.45" stroke="rgb(212,212,212)" stroke-width="3.0" fill="none" stroke-linecap="round" stroke-linejoin="round"/>
<path d="M892.55 308.45 L894.85 298.45 L893.85 289.45" stroke="rgb(212,212,212)" stroke-width="3.0" fill="none" stroke-linecap="round" stroke-linejoin="round"/>
<path d="M892.55 256.45 L894.85 266.45 L893.85 275.45" stroke="rgb(212,212,212)" stroke-width="3.0" fill="none" stroke-linecap="round" stroke-linejoin="round"/>
</g>
<g filter="url(#b25)">
<polygon points="548.05,301.45 568.05,304.85 592.05,305.85 609.05,305.85 615.65,299.45 614.05,292.05 607.55,290.05 600.05,290.85 582.05,295.05 566.05,292.45 556.05,287.45 550.05,291.45" fill="rgb(193,193,193)"/>
<polygon points="548.05,263.45 568.05,260.05 592.05,259.05 609.05,259.05 615.65,265.45 614.05,272.85 607.55,274.85 600.05,274.05 582.05,269.85 566.05,272.45 556.05,277.45 550.05,273.45" fill="rgb(193,193,193)"/>
<polygon points="686.2,301.45 706.2,304.85 730.2,305.85 747.2,305.85 753.8,299.45 752.2,292.05 745.7,290.05 738.2,290.85 720.2,295.05 704.2,292.45 694.2,287.45 688.2,291.45" fill="rgb(193,193,193)"/>
<polygon points="686.2,263.45 706.2,260.05 730.2,259.05 747.2,259.05 753.8,265.45 752.2,272.85 745.7,274.85 738.2,274.05 720.2,269.85 704.2,272.45 694.2,277.45 688.2,273.45" fill="rgb(193,193,193)"/>
<polygon points="824.35,301.45 844.35,304.85 868.35,305.85 885.35,305.85 891.95,299.45 890.35,292.05 883.85,290.05 876.35,290.85 858.35,295.05 842.35,292.45 832.35,287.45 826.35,291.45" fill="rgb(193,193,193)"/>
<polygon points="824.35,263.45 844.35,260.05 868.35,259.05 885.35,259.05 891.95,265.45 890.35,272.85 883.85,274.85 876.35,274.05 858.35,269.85 842.35,272.45 832.35,277.45 826.35,273.45" fill="rgb(193,193,193)"/>
</g>
<g filter="url(#b15)">
<polygon points="569.05,301.85 592.05,302.15 608.05,302.45 612.85,299.45 612.05,295.05 607.55,293.85 602.55,294.65 587.05,298.65" fill="rgb(94,94,94)"/>
<polygon points="569.05,263.05 592.05,262.75 608.05,262.45 612.85,265.45 612.05,269.85 607.55,271.05 602.55,270.25 587.05,266.25" fill="rgb(94,94,94)"/>
<polygon points="707.2,301.85 730.2,302.15 746.2,302.45 751,299.45 750.2,295.05 745.7,293.85 740.7,294.65 725.2,298.65" fill="rgb(94,94,94)"/>
<polygon points="707.2,263.05 730.2,262.75 746.2,262.45 751,265.45 750.2,269.85 745.7,271.05 740.7,270.25 725.2,266.25" fill="rgb(94,94,94)"/>
<polygon points="845.35,301.85 868.35,302.15 884.35,302.45 889.15,299.45 888.35,295.05 883.85,293.85 878.85,294.65 863.35,298.65" fill="rgb(94,94,94)"/>
<polygon points="845.35,263.05 868.35,262.75 884.35,262.45 889.15,265.45 888.35,269.85 883.85,271.05 878.85,270.25 863.35,266.25" fill="rgb(94,94,94)"/>
</g>
<g filter="url(#b1)">
<circle cx="608.35" cy="298.45" r="3.7" fill="rgb(48,48,48)"/>
<circle cx="608.35" cy="266.45" r="3.7" fill="rgb(48,48,48)"/>
<circle cx="746.5" cy="298.45" r="3.7" fill="rgb(48,48,48)"/>
<circle cx="746.5" cy="266.45" r="3.7" fill="rgb(48,48,48)"/>
<circle cx="884.65" cy="298.45" r="3.7" fill="rgb(48,48,48)"/>
<circle cx="884.65" cy="266.45" r="3.7" fill="rgb(48,48,48)"/>
</g>
<g filter="url(#b3)">
<rect x="486.9" y="258.45" width="71" height="8.5" rx="4" fill="rgb(247,247,247)"/>
<rect x="486.9" y="297.95" width="71" height="8.5" rx="4" fill="rgb(247,247,247)"/>
<polygon points="582.05,282.45 602.05,277.85 612.55,276.85 613.55,282.45 612.55,288.05 602.05,287.05" fill="rgb(247,247,247)"/>
<rect x="625.05" y="258.45" width="71" height="8.5" rx="4" fill="rgb(247,247,247)"/>
<rect x="625.05" y="297.95" width="71" height="8.5" rx="4" fill="rgb(247,247,247)"/>
<polygon points="720.2,282.45 740.2,277.85 750.7,276.85 751.7,282.45 750.7,288.05 740.2,287.05" fill="rgb(247,247,247)"/>
<rect x="763.2" y="258.45" width="71" height="8.5" rx="4" fill="rgb(247,247,247)"/>
<rect x="763.2" y="297.95" width="71" height="8.5" rx="4" fill="rgb(247,247,247)"/>
<polygon points="858.35,282.45 878.35,277.85 888.85,276.85 889.85,282.45 888.85,288.05 878.35,287.05" fill="rgb(247,247,247)"/>
<rect x="901.35" y="258.45" width="71" height="8.5" rx="4" fill="rgb(247,247,247)"/>
<rect x="901.35" y="297.95" width="71" height="8.5" rx="4" fill="rgb(247,247,247)"/>
<polygon points="996.5,282.45 1016.5,277.85 1027,276.85 1028,282.45 1027,288.05 1016.5,287.05" fill="rgb(247,247,247)"/>
</g>
<g filter="url(#b2)">
<polygon points="600.05,282.45 609.05,278.85 612.85,278.45 613.25,282.45 612.85,286.45 609.05,286.05" fill="rgb(255,255,255)"/>
<polygon points="738.2,282.45 747.2,278.85 751,278.45 751.4,282.45 751,286.45 747.2,286.05" fill="rgb(255,255,255)"/>
<polygon points="876.35,282.45 885.35,278.85 889.15,278.45 889.55,282.45 889.15,286.45 885.35,286.05" fill="rgb(255,255,255)"/>
<polygon points="1014.5,282.45 1023.5,278.85 1027.3,278.45 1027.7,282.45 1027.3,286.45 1023.5,286.05" fill="rgb(255,255,255)"/>
</g>
</g></g>
<clipPath id="ec2"><rect x="537.9" y="397.2" width="275.3" height="126"/></clipPath>
<g clip-path="url(#ec2)"><g filter="url(#jet)">
<rect x="505" y="378.4" width="345" height="163.8" fill="#000"/>
<g filter="url(#b3)">
<polygon points="476.45,428.3 537.45,428.3 587.95,420.9 591.95,421.3 598.95,418.5 602.45,416.5 605.45,417.3 609.45,424.1 611.25,428.3 614.6,428.3 675.6,428.3 726.1,420.9 730.1,421.3 737.1,418.5 740.6,416.5 743.6,417.3 747.6,424.1 749.4,428.3 752.75,428.3 813.75,428.3 864.25,420.9 868.25,421.3 875.25,418.5 878.75,416.5 881.75,417.3 885.75,424.1 887.55,428.3 887.55,492.7 885.75,496.9 881.75,503.7 878.75,504.5 875.25,502.5 868.25,499.7 864.25,500.1 813.75,492.7 752.75,492.7 749.4,492.7 747.6,496.9 743.6,503.7 740.6,504.5 737.1,502.5 730.1,499.7 726.1,500.1 675.6,492.7 614.6,492.7 611.25,492.7 609.45,496.9 605.45,503.7 602.45,504.5 598.95,502.5 591.95,499.7 587.95,500.1 537.45,492.7 476.45,492.7" fill="rgb(232,232,232)"/>
</g>
<g filter="url(#b3)">
<polygon points="476.35,460.5 479.02,458.88 481.68,457.68 484.35,456.61 487.02,455.64 489.68,454.73 492.35,453.89 495.02,453.11 497.68,452.38 500.35,451.72 503.02,451.11 505.68,450.55 508.35,450.06 511.02,449.63 513.68,449.25 516.35,448.94 519.02,448.69 521.68,448.5 524.35,448.37 527.02,448.31 529.68,448.31 532.35,448.38 535.02,448.52 537.68,448.73 540.35,449.02 543.02,449.37 545.68,449.78 548.35,450.26 551.02,450.81 553.68,451.41 556.35,452.07 559.02,452.79 561.68,453.56 564.35,454.38 567.02,455.25 569.68,456.17 572.35,457.13 575.02,458.15 577.68,459.24 580.35,460.5 580.35,460.5 577.68,461.76 575.02,462.85 572.35,463.87 569.68,464.83 567.02,465.75 564.35,466.62 561.68,467.44 559.02,468.21 556.35,468.93 553.68,469.59 551.02,470.19 548.35,470.74 545.68,471.22 543.02,471.63 540.35,471.98 537.68,472.27 535.02,472.48 532.35,472.62 529.68,472.69 527.02,472.69 524.35,472.63 521.68,472.5 519.02,472.31 516.35,472.06 513.68,471.75 511.02,471.37 508.35,470.94 505.68,470.45 503.02,469.89 500.35,469.28 497.68,468.62 495.02,467.89 492.35,467.11 489.68,466.27 487.02,465.36 484.35,464.39 481.68,463.32 479.02,462.12 476.35,460.5" fill="rgb(0,0,0)"/>
<polygon points="614.5,460.5 617.17,458.88 619.83,457.68 622.5,456.61 625.17,455.64 627.83,454.73 630.5,453.89 633.17,453.11 635.83,452.38 638.5,451.72 641.17,451.11 643.83,450.55 646.5,450.06 649.17,449.63 651.83,449.25 654.5,448.94 657.17,448.69 659.83,448.5 662.5,448.37 665.17,448.31 667.83,448.31 670.5,448.38 673.17,448.52 675.83,448.73 678.5,449.02 681.17,449.37 683.83,449.78 686.5,450.26 689.17,450.81 691.83,451.41 694.5,452.07 697.17,452.79 699.83,453.56 702.5,454.38 705.17,455.25 707.83,456.17 710.5,457.13 713.17,458.15 715.83,459.24 718.5,460.5 718.5,460.5 715.83,461.76 713.17,462.85 710.5,463.87 707.83,464.83 705.17,465.75 702.5,466.62 699.83,467.44 697.17,468.21 694.5,468.93 691.83,469.59 689.17,470.19 686.5,470.74 683.83,471.22 681.17,471.63 678.5,471.98 675.83,472.27 673.17,472.48 670.5,472.62 667.83,472.69 665.17,472.69 662.5,472.63 659.83,472.5 657.17,472.31 654.5,472.06 651.83,471.75 649.17,471.37 646.5,470.94 643.83,470.45 641.17,469.89 638.5,469.28 635.83,468.62 633.17,467.89 630.5,467.11 627.83,466.27 625.17,465.36 622.5,464.39 619.83,463.32 617.17,462.12 614.5,460.5" fill="rgb(0,0,0)"/>
<polygon points="752.65,460.5 755.32,458.88 757.98,457.68 760.65,456.61 763.32,455.64 765.98,454.73 768.65,453.89 771.32,453.11 773.98,452.38 776.65,451.72 779.32,451.11 781.98,450.55 784.65,450.06 787.32,449.63 789.98,449.25 792.65,448.94 795.32,448.69 797.98,448.5 800.65,448.37 803.32,448.31 805.98,448.31 808.65,448.38 811.32,448.52 813.98,448.73 816.65,449.02 819.32,449.37 821.98,449.78 824.65,450.26 827.32,450.81 829.98,451.41 832.65,452.07 835.32,452.79 837.98,453.56 840.65,454.38 843.32,455.25 845.98,456.17 848.65,457.13 851.32,458.15 853.98,459.24 856.65,460.5 856.65,460.5 853.98,461.76 851.32,462.85 848.65,463.87 845.98,464.83 843.32,465.75 840.65,466.62 837.98,467.44 835.32,468.21 832.65,468.93 829.98,469.59 827.32,470.19 824.65,470.74 821.98,471.22 819.32,471.63 816.65,471.98 813.98,472.27 811.32,472.48 808.65,472.62 805.98,472.69 803.32,472.69 800.65,472.63 797.98,472.5 795.32,472.31 792.65,472.06 789.98,471.75 787.32,471.37 784.65,470.94 781.98,470.45 779.32,469.89 776.65,469.28 773.98,468.62 771.32,467.89 768.65,467.11 765.98,466.27 763.32,465.36 760.65,464.39 757.98,463.32 755.32,462.12 752.65,460.5" fill="rgb(0,0,0)"/>
</g>
<g filter="url(#b1)">
<path d="M612.75 495 L615.05 483 L613.85 472.5 L611.25 467" stroke="rgb(204,204,204)" stroke-width="1.4" fill="none" stroke-linecap="round" stroke-linejoin="round"/>
<path d="M612.75 426 L615.05 438 L613.85 448.5 L611.25 454" stroke="rgb(204,204,204)" stroke-width="1.4" fill="none" stroke-linecap="round" stroke-linejoin="round"/>
<path d="M750.9 495 L753.2 483 L752 472.5 L749.4 467" stroke="rgb(204,204,204)" stroke-width="1.4" fill="none" stroke-linecap="round" stroke-linejoin="round"/>
<path d="M750.9 426 L753.2 438 L752 448.5 L749.4 454" stroke="rgb(204,204,204)" stroke-width="1.4" fill="none" stroke-linecap="round" stroke-linejoin="round"/>
<path d="M889.05 495 L891.35 483 L890.15 472.5 L887.55 467" stroke="rgb(204,204,204)" stroke-width="1.4" fill="none" stroke-linecap="round" stroke-linejoin="round"/>
<path d="M889.05 426 L891.35 438 L890.15 448.5 L887.55 454" stroke="rgb(204,204,204)" stroke-width="1.4" fill="none" stroke-linecap="round" stroke-linejoin="round"/>
</g>
<g filter="url(#b25)">
<polygon points="546.45,480.8 582.45,483.1 607.45,484.1 614.45,480 615.45,476 612.45,470.1 605.95,468.5 598.45,470.1 578.45,476.1" fill="rgb(193,193,193)"/>
<polygon points="546.45,440.2 582.45,437.9 607.45,436.9 614.45,441 615.45,445 612.45,450.9 605.95,452.5 598.45,450.9 578.45,444.9" fill="rgb(193,193,193)"/>
<polygon points="684.6,480.8 720.6,483.1 745.6,484.1 752.6,480 753.6,476 750.6,470.1 744.1,468.5 736.6,470.1 716.6,476.1" fill="rgb(193,193,193)"/>
<polygon points="684.6,440.2 720.6,437.9 745.6,436.9 752.6,441 753.6,445 750.6,450.9 744.1,452.5 736.6,450.9 716.6,444.9" fill="rgb(193,193,193)"/>
<polygon points="822.75,480.8 858.75,483.1 883.75,484.1 890.75,480 891.75,476 888.75,470.1 882.25,468.5 874.75,470.1 854.75,476.1" fill="rgb(193,193,193)"/>
<polygon points="822.75,440.2 858.75,437.9 883.75,436.9 890.75,441 891.75,445 888.75,450.9 882.25,452.5 874.75,450.9 854.75,444.9" fill="rgb(193,193,193)"/>
</g>
<g filter="url(#b15)">
<polygon points="557.45,480.5 582.45,481.3 606.45,481.7 610.85,479.5 611.85,476 610.05,472.5 605.95,471.3 600.45,472.7 582.45,477.3" fill="rgb(87,87,87)"/>
<polygon points="557.45,440.5 582.45,439.7 606.45,439.3 610.85,441.5 611.85,445 610.05,448.5 605.95,449.7 600.45,448.3 582.45,443.7" fill="rgb(87,87,87)"/>
<polygon points="695.6,480.5 720.6,481.3 744.6,481.7 749,479.5 750,476 748.2,472.5 744.1,471.3 738.6,472.7 720.6,477.3" fill="rgb(87,87,87)"/>
<polygon points="695.6,440.5 720.6,439.7 744.6,439.3 749,441.5 750,445 748.2,448.5 744.1,449.7 738.6,448.3 720.6,443.7" fill="rgb(87,87,87)"/>
<polygon points="833.75,480.5 858.75,481.3 882.75,481.7 887.15,479.5 888.15,476 886.35,472.5 882.25,471.3 876.75,472.7 858.75,477.3" fill="rgb(87,87,87)"/>
<polygon points="833.75,440.5 858.75,439.7 882.75,439.3 887.15,441.5 888.15,445 886.35,448.5 882.25,449.7 876.75,448.3 858.75,443.7" fill="rgb(87,87,87)"/>
</g>
<g filter="url(#b1)">
<polygon points="587.45,478.8 600.45,479.1 608.05,479.3 610.65,476.3 607.85,473.4 602.45,474.5" fill="rgb(22,22,22)"/>
<polygon points="587.45,442.2 600.45,441.9 608.05,441.7 610.65,444.7 607.85,447.6 602.45,446.5" fill="rgb(22,22,22)"/>
<polygon points="725.6,478.8 738.6,479.1 746.2,479.3 748.8,476.3 746,473.4 740.6,474.5" fill="rgb(22,22,22)"/>
<polygon points="725.6,442.2 738.6,441.9 746.2,441.7 748.8,444.7 746,447.6 740.6,446.5" fill="rgb(22,22,22)"/>
<polygon points="863.75,478.8 876.75,479.1 884.35,479.3 886.95,476.3 884.15,473.4 878.75,474.5" fill="rgb(22,22,22)"/>
<polygon points="863.75,442.2 876.75,441.9 884.35,441.7 886.95,444.7 884.15,447.6 878.75,446.5" fill="rgb(22,22,22)"/>
</g>
<g filter="url(#b05)">
<circle cx="607.85" cy="476.3" r="1.7" fill="rgb(0,0,0)"/>
<circle cx="607.85" cy="444.7" r="1.7" fill="rgb(0,0,0)"/>
<circle cx="746" cy="476.3" r="1.7" fill="rgb(0,0,0)"/>
<circle cx="746" cy="444.7" r="1.7" fill="rgb(0,0,0)"/>
<circle cx="884.15" cy="476.3" r="1.7" fill="rgb(0,0,0)"/>
<circle cx="884.15" cy="444.7" r="1.7" fill="rgb(0,0,0)"/>
</g>
<g filter="url(#b3)">
<rect x="490.3" y="435.5" width="50" height="6.5" rx="3" fill="rgb(255,255,255)"/>
<rect x="490.3" y="479" width="50" height="6.5" rx="3" fill="rgb(255,255,255)"/>
<polygon points="582.45,460.5 602.45,455.5 610.45,454.1 611.45,460.5 610.45,466.9 602.45,465.5" fill="rgb(247,247,247)"/>
<rect x="628.45" y="435.5" width="50" height="6.5" rx="3" fill="rgb(255,255,255)"/>
<rect x="628.45" y="479" width="50" height="6.5" rx="3" fill="rgb(255,255,255)"/>
<polygon points="720.6,460.5 740.6,455.5 748.6,454.1 749.6,460.5 748.6,466.9 740.6,465.5" fill="rgb(247,247,247)"/>
<rect x="766.6" y="435.5" width="50" height="6.5" rx="3" fill="rgb(255,255,255)"/>
<rect x="766.6" y="479" width="50" height="6.5" rx="3" fill="rgb(255,255,255)"/>
<polygon points="858.75,460.5 878.75,455.5 886.75,454.1 887.75,460.5 886.75,466.9 878.75,465.5" fill="rgb(247,247,247)"/>
<rect x="904.75" y="435.5" width="50" height="6.5" rx="3" fill="rgb(255,255,255)"/>
<rect x="904.75" y="479" width="50" height="6.5" rx="3" fill="rgb(255,255,255)"/>
<polygon points="996.9,460.5 1016.9,455.5 1024.9,454.1 1025.9,460.5 1024.9,466.9 1016.9,465.5" fill="rgb(247,247,247)"/>
</g>
<g filter="url(#b2)">
<polygon points="599.45,460.5 608.45,456.5 611.05,455.9 611.45,460.5 611.05,465.1 608.45,464.5" fill="rgb(255,255,255)"/>
<polygon points="737.6,460.5 746.6,456.5 749.2,455.9 749.6,460.5 749.2,465.1 746.6,464.5" fill="rgb(255,255,255)"/>
<polygon points="875.75,460.5 884.75,456.5 887.35,455.9 887.75,460.5 887.35,465.1 884.75,464.5" fill="rgb(255,255,255)"/>
<polygon points="1013.9,460.5 1022.9,456.5 1025.5,455.9 1025.9,460.5 1025.5,465.1 1022.9,464.5" fill="rgb(255,255,255)"/>
</g>
</g></g>
</svg></body></html>
